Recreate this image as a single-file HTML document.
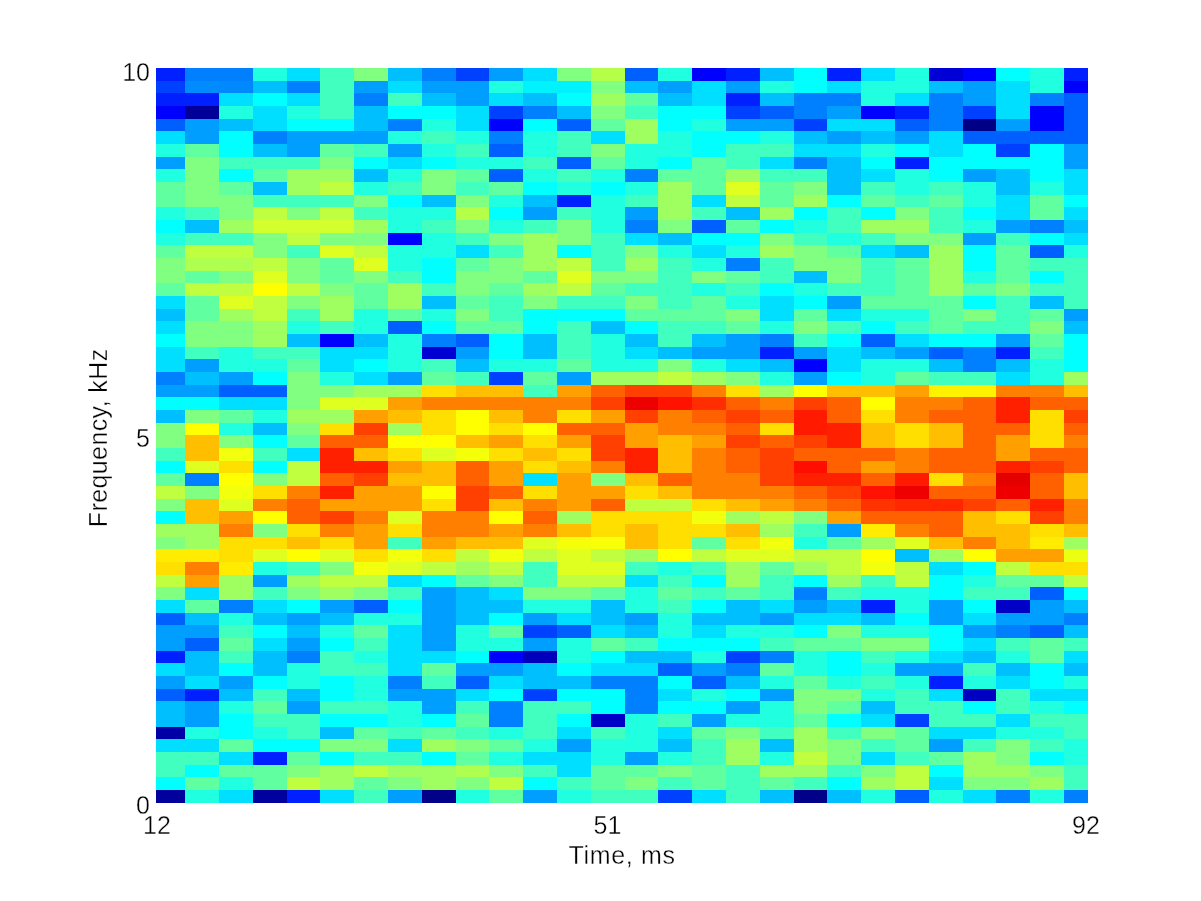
<!DOCTYPE html>
<html><head><meta charset="utf-8"><title>Spectrogram</title>
<style>html,body{margin:0;padding:0;background:#fff}svg{display:block}text{font-family:"Liberation Sans",Arial,Helvetica,sans-serif;font-size:25px;fill:#000;stroke:#fff;stroke-width:0.35px}</style></head><body>
<svg width="1201" height="901" viewBox="0 0 1201 901">
<rect width="1201" height="901" fill="#fff"/>
<g shape-rendering="crispEdges">
<rect x="156.0" y="68.00" width="29.6" height="13.17" fill="#0020ff"/>
<rect x="185.1" y="68.00" width="68.1" height="13.17" fill="#0080ff"/>
<rect x="252.7" y="68.00" width="34.3" height="13.17" fill="#20ffdf"/>
<rect x="286.5" y="68.00" width="34.3" height="13.17" fill="#00dfff"/>
<rect x="320.3" y="68.00" width="34.3" height="13.17" fill="#40ffbf"/>
<rect x="354.1" y="68.00" width="34.3" height="13.17" fill="#80ff80"/>
<rect x="387.9" y="68.00" width="34.3" height="13.17" fill="#00bfff"/>
<rect x="421.7" y="68.00" width="34.3" height="13.17" fill="#0080ff"/>
<rect x="455.5" y="68.00" width="34.3" height="13.17" fill="#0040ff"/>
<rect x="489.3" y="68.00" width="34.3" height="13.17" fill="#009fff"/>
<rect x="523.1" y="68.00" width="34.3" height="13.17" fill="#00dfff"/>
<rect x="556.9" y="68.00" width="34.3" height="13.17" fill="#80ff80"/>
<rect x="590.7" y="68.00" width="34.3" height="13.17" fill="#b6ff49"/>
<rect x="624.5" y="68.00" width="34.3" height="13.17" fill="#0060ff"/>
<rect x="658.3" y="68.00" width="34.3" height="13.17" fill="#20ffdf"/>
<rect x="692.1" y="68.00" width="34.3" height="13.17" fill="#0000ff"/>
<rect x="725.9" y="68.00" width="34.3" height="13.17" fill="#0020ff"/>
<rect x="759.7" y="68.00" width="34.3" height="13.17" fill="#00bfff"/>
<rect x="793.5" y="68.00" width="34.3" height="13.17" fill="#00ffff"/>
<rect x="827.3" y="68.00" width="34.3" height="13.17" fill="#0020ff"/>
<rect x="861.1" y="68.00" width="34.3" height="13.17" fill="#00dfff"/>
<rect x="894.9" y="68.00" width="34.3" height="13.17" fill="#20ffdf"/>
<rect x="928.7" y="68.00" width="34.3" height="13.17" fill="#0000d6"/>
<rect x="962.5" y="68.00" width="34.3" height="13.17" fill="#0000ff"/>
<rect x="996.3" y="68.00" width="34.3" height="13.17" fill="#00ffff"/>
<rect x="1030.1" y="68.00" width="34.3" height="13.17" fill="#20ffdf"/>
<rect x="1063.9" y="68.00" width="24.1" height="13.17" fill="#0020ff"/>
<rect x="156.0" y="80.67" width="29.6" height="13.17" fill="#0040ff"/>
<rect x="185.1" y="80.67" width="34.3" height="13.17" fill="#008cff"/>
<rect x="218.9" y="80.67" width="34.3" height="13.17" fill="#0089ff"/>
<rect x="252.7" y="80.67" width="34.3" height="13.17" fill="#00bfff"/>
<rect x="286.5" y="80.67" width="34.3" height="13.17" fill="#0080ff"/>
<rect x="320.3" y="80.67" width="34.3" height="13.17" fill="#40ffbf"/>
<rect x="354.1" y="80.67" width="34.3" height="13.17" fill="#009fff"/>
<rect x="387.9" y="80.67" width="34.3" height="13.17" fill="#00dfff"/>
<rect x="421.7" y="80.67" width="68.1" height="13.17" fill="#009fff"/>
<rect x="489.3" y="80.67" width="34.3" height="13.17" fill="#20ffdf"/>
<rect x="523.1" y="80.67" width="68.1" height="13.17" fill="#00f2ff"/>
<rect x="590.7" y="80.67" width="34.3" height="13.17" fill="#80ff80"/>
<rect x="624.5" y="80.67" width="34.3" height="13.17" fill="#00bfff"/>
<rect x="658.3" y="80.67" width="34.3" height="13.17" fill="#009fff"/>
<rect x="692.1" y="80.67" width="34.3" height="13.17" fill="#00dfff"/>
<rect x="725.9" y="80.67" width="34.3" height="13.17" fill="#009fff"/>
<rect x="759.7" y="80.67" width="34.3" height="13.17" fill="#20ffdf"/>
<rect x="793.5" y="80.67" width="34.3" height="13.17" fill="#00ffff"/>
<rect x="827.3" y="80.67" width="34.3" height="13.17" fill="#00dfff"/>
<rect x="861.1" y="80.67" width="68.1" height="13.17" fill="#20ffdf"/>
<rect x="928.7" y="80.67" width="34.3" height="13.17" fill="#00bfff"/>
<rect x="962.5" y="80.67" width="34.3" height="13.17" fill="#009fff"/>
<rect x="996.3" y="80.67" width="34.3" height="13.17" fill="#00dfff"/>
<rect x="1030.1" y="80.67" width="34.3" height="13.17" fill="#20ffdf"/>
<rect x="1063.9" y="80.67" width="24.1" height="13.17" fill="#0000ff"/>
<rect x="156.0" y="93.33" width="63.4" height="13.17" fill="#0020ff"/>
<rect x="218.9" y="93.33" width="34.3" height="13.17" fill="#00dfff"/>
<rect x="252.7" y="93.33" width="34.3" height="13.17" fill="#00ffff"/>
<rect x="286.5" y="93.33" width="34.3" height="13.17" fill="#00dfff"/>
<rect x="320.3" y="93.33" width="34.3" height="13.17" fill="#40ffbf"/>
<rect x="354.1" y="93.33" width="34.3" height="13.17" fill="#0080ff"/>
<rect x="387.9" y="93.33" width="34.3" height="13.17" fill="#40ffbf"/>
<rect x="421.7" y="93.33" width="34.3" height="13.17" fill="#00bfff"/>
<rect x="455.5" y="93.33" width="34.3" height="13.17" fill="#009fff"/>
<rect x="489.3" y="93.33" width="34.3" height="13.17" fill="#00dfff"/>
<rect x="523.1" y="93.33" width="34.3" height="13.17" fill="#00bfff"/>
<rect x="556.9" y="93.33" width="34.3" height="13.17" fill="#00ffff"/>
<rect x="590.7" y="93.33" width="34.3" height="13.17" fill="#9fff60"/>
<rect x="624.5" y="93.33" width="34.3" height="13.17" fill="#60ff9f"/>
<rect x="658.3" y="93.33" width="34.3" height="13.17" fill="#00bfff"/>
<rect x="692.1" y="93.33" width="34.3" height="13.17" fill="#00dfff"/>
<rect x="725.9" y="93.33" width="34.3" height="13.17" fill="#0020ff"/>
<rect x="759.7" y="93.33" width="34.3" height="13.17" fill="#00bfff"/>
<rect x="793.5" y="93.33" width="68.1" height="13.17" fill="#0080ff"/>
<rect x="861.1" y="93.33" width="34.3" height="13.17" fill="#20ffdf"/>
<rect x="894.9" y="93.33" width="34.3" height="13.17" fill="#00dfff"/>
<rect x="928.7" y="93.33" width="34.3" height="13.17" fill="#0080ff"/>
<rect x="962.5" y="93.33" width="34.3" height="13.17" fill="#009fff"/>
<rect x="996.3" y="93.33" width="34.3" height="13.17" fill="#00dfff"/>
<rect x="1030.1" y="93.33" width="34.3" height="13.17" fill="#0080ff"/>
<rect x="1063.9" y="93.33" width="24.1" height="13.17" fill="#0060ff"/>
<rect x="156.0" y="106.00" width="29.6" height="13.17" fill="#0000ff"/>
<rect x="185.1" y="106.00" width="34.3" height="13.17" fill="#000099"/>
<rect x="218.9" y="106.00" width="34.3" height="13.17" fill="#20ffdf"/>
<rect x="252.7" y="106.00" width="34.3" height="13.17" fill="#00dfff"/>
<rect x="286.5" y="106.00" width="34.3" height="13.17" fill="#20ffdf"/>
<rect x="320.3" y="106.00" width="34.3" height="13.17" fill="#40ffbf"/>
<rect x="354.1" y="106.00" width="34.3" height="13.17" fill="#00bfff"/>
<rect x="387.9" y="106.00" width="68.1" height="13.17" fill="#00ffff"/>
<rect x="455.5" y="106.00" width="34.3" height="13.17" fill="#00dfff"/>
<rect x="489.3" y="106.00" width="34.3" height="13.17" fill="#0040ff"/>
<rect x="523.1" y="106.00" width="34.3" height="13.17" fill="#0080ff"/>
<rect x="556.9" y="106.00" width="34.3" height="13.17" fill="#00bfff"/>
<rect x="590.7" y="106.00" width="34.3" height="13.17" fill="#80ff80"/>
<rect x="624.5" y="106.00" width="34.3" height="13.17" fill="#40ffbf"/>
<rect x="658.3" y="106.00" width="68.1" height="13.17" fill="#00ffff"/>
<rect x="725.9" y="106.00" width="34.3" height="13.17" fill="#0040ff"/>
<rect x="759.7" y="106.00" width="34.3" height="13.17" fill="#0060ff"/>
<rect x="793.5" y="106.00" width="34.3" height="13.17" fill="#0080ff"/>
<rect x="827.3" y="106.00" width="34.3" height="13.17" fill="#009fff"/>
<rect x="861.1" y="106.00" width="34.3" height="13.17" fill="#0000ff"/>
<rect x="894.9" y="106.00" width="34.3" height="13.17" fill="#0020ff"/>
<rect x="928.7" y="106.00" width="34.3" height="13.17" fill="#0080ff"/>
<rect x="962.5" y="106.00" width="34.3" height="13.17" fill="#0040ff"/>
<rect x="996.3" y="106.00" width="34.3" height="13.17" fill="#00dfff"/>
<rect x="1030.1" y="106.00" width="34.3" height="13.17" fill="#0000ff"/>
<rect x="1063.9" y="106.00" width="24.1" height="13.17" fill="#0060ff"/>
<rect x="156.0" y="118.67" width="29.6" height="13.17" fill="#0060ff"/>
<rect x="185.1" y="118.67" width="34.3" height="13.17" fill="#009fff"/>
<rect x="218.9" y="118.67" width="34.3" height="13.17" fill="#00bfff"/>
<rect x="252.7" y="118.67" width="34.3" height="13.17" fill="#00dfff"/>
<rect x="286.5" y="118.67" width="68.1" height="13.17" fill="#00ffff"/>
<rect x="354.1" y="118.67" width="34.3" height="13.17" fill="#00bfff"/>
<rect x="387.9" y="118.67" width="34.3" height="13.17" fill="#0080ff"/>
<rect x="421.7" y="118.67" width="34.3" height="13.17" fill="#20ffdf"/>
<rect x="455.5" y="118.67" width="34.3" height="13.17" fill="#00dfff"/>
<rect x="489.3" y="118.67" width="34.3" height="13.17" fill="#0000ff"/>
<rect x="523.1" y="118.67" width="34.3" height="13.17" fill="#00ffff"/>
<rect x="556.9" y="118.67" width="34.3" height="13.17" fill="#0060ff"/>
<rect x="590.7" y="118.67" width="34.3" height="13.17" fill="#60ff9f"/>
<rect x="624.5" y="118.67" width="34.3" height="13.17" fill="#9fff60"/>
<rect x="658.3" y="118.67" width="34.3" height="13.17" fill="#00ffff"/>
<rect x="692.1" y="118.67" width="34.3" height="13.17" fill="#20ffdf"/>
<rect x="725.9" y="118.67" width="68.1" height="13.17" fill="#009fff"/>
<rect x="793.5" y="118.67" width="34.3" height="13.17" fill="#0040ff"/>
<rect x="827.3" y="118.67" width="68.1" height="13.17" fill="#00dfff"/>
<rect x="894.9" y="118.67" width="34.3" height="13.17" fill="#0060ff"/>
<rect x="928.7" y="118.67" width="34.3" height="13.17" fill="#0080ff"/>
<rect x="962.5" y="118.67" width="34.3" height="13.17" fill="#000086"/>
<rect x="996.3" y="118.67" width="34.3" height="13.17" fill="#009fff"/>
<rect x="1030.1" y="118.67" width="34.3" height="13.17" fill="#0000ff"/>
<rect x="1063.9" y="118.67" width="24.1" height="13.17" fill="#0060ff"/>
<rect x="156.0" y="131.34" width="29.6" height="13.17" fill="#00dfff"/>
<rect x="185.1" y="131.34" width="34.3" height="13.17" fill="#009fff"/>
<rect x="218.9" y="131.34" width="34.3" height="13.17" fill="#00ffff"/>
<rect x="252.7" y="131.34" width="34.3" height="13.17" fill="#0080ff"/>
<rect x="286.5" y="131.34" width="101.9" height="13.17" fill="#009fff"/>
<rect x="387.9" y="131.34" width="34.3" height="13.17" fill="#20ffdf"/>
<rect x="421.7" y="131.34" width="34.3" height="13.17" fill="#40ffbf"/>
<rect x="455.5" y="131.34" width="34.3" height="13.17" fill="#20ffdf"/>
<rect x="489.3" y="131.34" width="34.3" height="13.17" fill="#0080ff"/>
<rect x="523.1" y="131.34" width="34.3" height="13.17" fill="#20ffdf"/>
<rect x="556.9" y="131.34" width="34.3" height="13.17" fill="#40ffbf"/>
<rect x="590.7" y="131.34" width="34.3" height="13.17" fill="#00dfff"/>
<rect x="624.5" y="131.34" width="34.3" height="13.17" fill="#9fff60"/>
<rect x="658.3" y="131.34" width="34.3" height="13.17" fill="#20ffdf"/>
<rect x="692.1" y="131.34" width="68.1" height="13.17" fill="#00ffff"/>
<rect x="759.7" y="131.34" width="34.3" height="13.17" fill="#20ffdf"/>
<rect x="793.5" y="131.34" width="34.3" height="13.17" fill="#00bfff"/>
<rect x="827.3" y="131.34" width="34.3" height="13.17" fill="#009fff"/>
<rect x="861.1" y="131.34" width="34.3" height="13.17" fill="#00bfff"/>
<rect x="894.9" y="131.34" width="34.3" height="13.17" fill="#009fff"/>
<rect x="928.7" y="131.34" width="34.3" height="13.17" fill="#00dfff"/>
<rect x="962.5" y="131.34" width="125.5" height="13.17" fill="#0060ff"/>
<rect x="156.0" y="144.00" width="29.6" height="13.17" fill="#20ffdf"/>
<rect x="185.1" y="144.00" width="34.3" height="13.17" fill="#60ff9f"/>
<rect x="218.9" y="144.00" width="34.3" height="13.17" fill="#00ffff"/>
<rect x="252.7" y="144.00" width="34.3" height="13.17" fill="#00bfff"/>
<rect x="286.5" y="144.00" width="34.3" height="13.17" fill="#009fff"/>
<rect x="320.3" y="144.00" width="34.3" height="13.17" fill="#60ff9f"/>
<rect x="354.1" y="144.00" width="34.3" height="13.17" fill="#40ffbf"/>
<rect x="387.9" y="144.00" width="34.3" height="13.17" fill="#009fff"/>
<rect x="421.7" y="144.00" width="34.3" height="13.17" fill="#20ffdf"/>
<rect x="455.5" y="144.00" width="34.3" height="13.17" fill="#40ffbf"/>
<rect x="489.3" y="144.00" width="34.3" height="13.17" fill="#0060ff"/>
<rect x="523.1" y="144.00" width="34.3" height="13.17" fill="#20ffdf"/>
<rect x="556.9" y="144.00" width="34.3" height="13.17" fill="#40ffbf"/>
<rect x="590.7" y="144.00" width="34.3" height="13.17" fill="#80ff80"/>
<rect x="624.5" y="144.00" width="68.1" height="13.17" fill="#20ffdf"/>
<rect x="692.1" y="144.00" width="34.3" height="13.17" fill="#00ffff"/>
<rect x="725.9" y="144.00" width="68.1" height="13.17" fill="#40ffbf"/>
<rect x="793.5" y="144.00" width="68.1" height="13.17" fill="#00dfff"/>
<rect x="861.1" y="144.00" width="34.3" height="13.17" fill="#20ffdf"/>
<rect x="894.9" y="144.00" width="34.3" height="13.17" fill="#00ffff"/>
<rect x="928.7" y="144.00" width="34.3" height="13.17" fill="#00dfff"/>
<rect x="962.5" y="144.00" width="34.3" height="13.17" fill="#00ffff"/>
<rect x="996.3" y="144.00" width="34.3" height="13.17" fill="#0040ff"/>
<rect x="1030.1" y="144.00" width="34.3" height="13.17" fill="#00ffff"/>
<rect x="1063.9" y="144.00" width="24.1" height="13.17" fill="#009fff"/>
<rect x="156.0" y="156.67" width="29.6" height="13.17" fill="#009fff"/>
<rect x="185.1" y="156.67" width="34.3" height="13.17" fill="#80ff80"/>
<rect x="218.9" y="156.67" width="101.9" height="13.17" fill="#40ffbf"/>
<rect x="320.3" y="156.67" width="34.3" height="13.17" fill="#80ff80"/>
<rect x="354.1" y="156.67" width="34.3" height="13.17" fill="#00ffff"/>
<rect x="387.9" y="156.67" width="34.3" height="13.17" fill="#00dfff"/>
<rect x="421.7" y="156.67" width="34.3" height="13.17" fill="#00ffff"/>
<rect x="455.5" y="156.67" width="68.1" height="13.17" fill="#20ffdf"/>
<rect x="523.1" y="156.67" width="34.3" height="13.17" fill="#40ffbf"/>
<rect x="556.9" y="156.67" width="34.3" height="13.17" fill="#0060ff"/>
<rect x="590.7" y="156.67" width="34.3" height="13.17" fill="#60ff9f"/>
<rect x="624.5" y="156.67" width="34.3" height="13.17" fill="#20ffdf"/>
<rect x="658.3" y="156.67" width="34.3" height="13.17" fill="#00ffff"/>
<rect x="692.1" y="156.67" width="34.3" height="13.17" fill="#60ff9f"/>
<rect x="725.9" y="156.67" width="34.3" height="13.17" fill="#40ffbf"/>
<rect x="759.7" y="156.67" width="34.3" height="13.17" fill="#00dfff"/>
<rect x="793.5" y="156.67" width="34.3" height="13.17" fill="#0080ff"/>
<rect x="827.3" y="156.67" width="34.3" height="13.17" fill="#00bfff"/>
<rect x="861.1" y="156.67" width="34.3" height="13.17" fill="#00ffff"/>
<rect x="894.9" y="156.67" width="34.3" height="13.17" fill="#0020ff"/>
<rect x="928.7" y="156.67" width="135.7" height="13.17" fill="#00ffff"/>
<rect x="1063.9" y="156.67" width="24.1" height="13.17" fill="#009fff"/>
<rect x="156.0" y="169.34" width="29.6" height="13.17" fill="#20ffdf"/>
<rect x="185.1" y="169.34" width="34.3" height="13.17" fill="#80ff80"/>
<rect x="218.9" y="169.34" width="34.3" height="13.17" fill="#00ffff"/>
<rect x="252.7" y="169.34" width="34.3" height="13.17" fill="#60ff9f"/>
<rect x="286.5" y="169.34" width="68.1" height="13.17" fill="#9fff60"/>
<rect x="354.1" y="169.34" width="34.3" height="13.17" fill="#00bfff"/>
<rect x="387.9" y="169.34" width="34.3" height="13.17" fill="#20ffdf"/>
<rect x="421.7" y="169.34" width="34.3" height="13.17" fill="#80ff80"/>
<rect x="455.5" y="169.34" width="34.3" height="13.17" fill="#60ff9f"/>
<rect x="489.3" y="169.34" width="34.3" height="13.17" fill="#0060ff"/>
<rect x="523.1" y="169.34" width="34.3" height="13.17" fill="#20ffdf"/>
<rect x="556.9" y="169.34" width="34.3" height="13.17" fill="#40ffbf"/>
<rect x="590.7" y="169.34" width="34.3" height="13.17" fill="#20ffdf"/>
<rect x="624.5" y="169.34" width="34.3" height="13.17" fill="#0080ff"/>
<rect x="658.3" y="169.34" width="68.1" height="13.17" fill="#60ff9f"/>
<rect x="725.9" y="169.34" width="34.3" height="13.17" fill="#9fff60"/>
<rect x="759.7" y="169.34" width="68.1" height="13.17" fill="#40ffbf"/>
<rect x="827.3" y="169.34" width="34.3" height="13.17" fill="#00bfff"/>
<rect x="861.1" y="169.34" width="34.3" height="13.17" fill="#00dfff"/>
<rect x="894.9" y="169.34" width="34.3" height="13.17" fill="#20ffdf"/>
<rect x="928.7" y="169.34" width="34.3" height="13.17" fill="#00ffff"/>
<rect x="962.5" y="169.34" width="34.3" height="13.17" fill="#009fff"/>
<rect x="996.3" y="169.34" width="34.3" height="13.17" fill="#00bfff"/>
<rect x="1030.1" y="169.34" width="34.3" height="13.17" fill="#00ffff"/>
<rect x="1063.9" y="169.34" width="24.1" height="13.17" fill="#00dfff"/>
<rect x="156.0" y="182.01" width="29.6" height="13.17" fill="#60ff9f"/>
<rect x="185.1" y="182.01" width="34.3" height="13.17" fill="#80ff80"/>
<rect x="218.9" y="182.01" width="34.3" height="13.17" fill="#60ff9f"/>
<rect x="252.7" y="182.01" width="34.3" height="13.17" fill="#00bfff"/>
<rect x="286.5" y="182.01" width="34.3" height="13.17" fill="#9fff60"/>
<rect x="320.3" y="182.01" width="34.3" height="13.17" fill="#bfff40"/>
<rect x="354.1" y="182.01" width="34.3" height="13.17" fill="#20ffdf"/>
<rect x="387.9" y="182.01" width="34.3" height="13.17" fill="#40ffbf"/>
<rect x="421.7" y="182.01" width="34.3" height="13.17" fill="#80ff80"/>
<rect x="455.5" y="182.01" width="34.3" height="13.17" fill="#40ffbf"/>
<rect x="489.3" y="182.01" width="34.3" height="13.17" fill="#60ff9f"/>
<rect x="523.1" y="182.01" width="34.3" height="13.17" fill="#00ffff"/>
<rect x="556.9" y="182.01" width="34.3" height="13.17" fill="#20ffdf"/>
<rect x="590.7" y="182.01" width="34.3" height="13.17" fill="#00ffff"/>
<rect x="624.5" y="182.01" width="34.3" height="13.17" fill="#20ffdf"/>
<rect x="658.3" y="182.01" width="34.3" height="13.17" fill="#9fff60"/>
<rect x="692.1" y="182.01" width="34.3" height="13.17" fill="#60ff9f"/>
<rect x="725.9" y="182.01" width="34.3" height="13.17" fill="#dfff20"/>
<rect x="759.7" y="182.01" width="34.3" height="13.17" fill="#60ff9f"/>
<rect x="793.5" y="182.01" width="34.3" height="13.17" fill="#80ff80"/>
<rect x="827.3" y="182.01" width="34.3" height="13.17" fill="#00bfff"/>
<rect x="861.1" y="182.01" width="34.3" height="13.17" fill="#40ffbf"/>
<rect x="894.9" y="182.01" width="34.3" height="13.17" fill="#20ffdf"/>
<rect x="928.7" y="182.01" width="34.3" height="13.17" fill="#40ffbf"/>
<rect x="962.5" y="182.01" width="34.3" height="13.17" fill="#20ffdf"/>
<rect x="996.3" y="182.01" width="34.3" height="13.17" fill="#00bfff"/>
<rect x="1030.1" y="182.01" width="34.3" height="13.17" fill="#20ffdf"/>
<rect x="1063.9" y="182.01" width="24.1" height="13.17" fill="#00dfff"/>
<rect x="156.0" y="194.67" width="29.6" height="13.17" fill="#60ff9f"/>
<rect x="185.1" y="194.67" width="68.1" height="13.17" fill="#80ff80"/>
<rect x="252.7" y="194.67" width="101.9" height="13.17" fill="#40ffbf"/>
<rect x="354.1" y="194.67" width="34.3" height="13.17" fill="#80ff80"/>
<rect x="387.9" y="194.67" width="34.3" height="13.17" fill="#00ffff"/>
<rect x="421.7" y="194.67" width="34.3" height="13.17" fill="#00bfff"/>
<rect x="455.5" y="194.67" width="34.3" height="13.17" fill="#80ff80"/>
<rect x="489.3" y="194.67" width="34.3" height="13.17" fill="#20ffdf"/>
<rect x="523.1" y="194.67" width="34.3" height="13.17" fill="#00bfff"/>
<rect x="556.9" y="194.67" width="34.3" height="13.17" fill="#0020ff"/>
<rect x="590.7" y="194.67" width="34.3" height="13.17" fill="#20ffdf"/>
<rect x="624.5" y="194.67" width="34.3" height="13.17" fill="#40ffbf"/>
<rect x="658.3" y="194.67" width="34.3" height="13.17" fill="#9fff60"/>
<rect x="692.1" y="194.67" width="34.3" height="13.17" fill="#00dfff"/>
<rect x="725.9" y="194.67" width="34.3" height="13.17" fill="#bfff40"/>
<rect x="759.7" y="194.67" width="34.3" height="13.17" fill="#60ff9f"/>
<rect x="793.5" y="194.67" width="34.3" height="13.17" fill="#9fff60"/>
<rect x="827.3" y="194.67" width="34.3" height="13.17" fill="#00ffff"/>
<rect x="861.1" y="194.67" width="34.3" height="13.17" fill="#60ff9f"/>
<rect x="894.9" y="194.67" width="34.3" height="13.17" fill="#40ffbf"/>
<rect x="928.7" y="194.67" width="34.3" height="13.17" fill="#60ff9f"/>
<rect x="962.5" y="194.67" width="34.3" height="13.17" fill="#20ffdf"/>
<rect x="996.3" y="194.67" width="34.3" height="13.17" fill="#00dfff"/>
<rect x="1030.1" y="194.67" width="34.3" height="13.17" fill="#60ff9f"/>
<rect x="1063.9" y="194.67" width="24.1" height="13.17" fill="#00ffff"/>
<rect x="156.0" y="207.34" width="29.6" height="13.17" fill="#20ffdf"/>
<rect x="185.1" y="207.34" width="34.3" height="13.17" fill="#40ffbf"/>
<rect x="218.9" y="207.34" width="34.3" height="13.17" fill="#80ff80"/>
<rect x="252.7" y="207.34" width="34.3" height="13.17" fill="#bfff40"/>
<rect x="286.5" y="207.34" width="34.3" height="13.17" fill="#80ff80"/>
<rect x="320.3" y="207.34" width="34.3" height="13.17" fill="#bfff40"/>
<rect x="354.1" y="207.34" width="34.3" height="13.17" fill="#40ffbf"/>
<rect x="387.9" y="207.34" width="68.1" height="13.17" fill="#20ffdf"/>
<rect x="455.5" y="207.34" width="34.3" height="13.17" fill="#b6ff49"/>
<rect x="489.3" y="207.34" width="34.3" height="13.17" fill="#00ffff"/>
<rect x="523.1" y="207.34" width="34.3" height="13.17" fill="#009fff"/>
<rect x="556.9" y="207.34" width="34.3" height="13.17" fill="#40ffbf"/>
<rect x="590.7" y="207.34" width="34.3" height="13.17" fill="#20ffdf"/>
<rect x="624.5" y="207.34" width="34.3" height="13.17" fill="#009fff"/>
<rect x="658.3" y="207.34" width="34.3" height="13.17" fill="#9fff60"/>
<rect x="692.1" y="207.34" width="34.3" height="13.17" fill="#40ffbf"/>
<rect x="725.9" y="207.34" width="34.3" height="13.17" fill="#00bfff"/>
<rect x="759.7" y="207.34" width="34.3" height="13.17" fill="#9fff60"/>
<rect x="793.5" y="207.34" width="34.3" height="13.17" fill="#00ffff"/>
<rect x="827.3" y="207.34" width="34.3" height="13.17" fill="#40ffbf"/>
<rect x="861.1" y="207.34" width="34.3" height="13.17" fill="#00ffff"/>
<rect x="894.9" y="207.34" width="34.3" height="13.17" fill="#80ff80"/>
<rect x="928.7" y="207.34" width="34.3" height="13.17" fill="#40ffbf"/>
<rect x="962.5" y="207.34" width="34.3" height="13.17" fill="#00ffff"/>
<rect x="996.3" y="207.34" width="34.3" height="13.17" fill="#00dfff"/>
<rect x="1030.1" y="207.34" width="34.3" height="13.17" fill="#60ff9f"/>
<rect x="1063.9" y="207.34" width="24.1" height="13.17" fill="#00dfff"/>
<rect x="156.0" y="220.01" width="29.6" height="13.17" fill="#00ffff"/>
<rect x="185.1" y="220.01" width="34.3" height="13.17" fill="#00bfff"/>
<rect x="218.9" y="220.01" width="34.3" height="13.17" fill="#9fff60"/>
<rect x="252.7" y="220.01" width="101.9" height="13.17" fill="#d2ff2d"/>
<rect x="354.1" y="220.01" width="34.3" height="13.17" fill="#9fff60"/>
<rect x="387.9" y="220.01" width="34.3" height="13.17" fill="#20ffdf"/>
<rect x="421.7" y="220.01" width="34.3" height="13.17" fill="#40ffbf"/>
<rect x="455.5" y="220.01" width="34.3" height="13.17" fill="#80ff80"/>
<rect x="489.3" y="220.01" width="34.3" height="13.17" fill="#20ffdf"/>
<rect x="523.1" y="220.01" width="34.3" height="13.17" fill="#40ffbf"/>
<rect x="556.9" y="220.01" width="34.3" height="13.17" fill="#80ff80"/>
<rect x="590.7" y="220.01" width="34.3" height="13.17" fill="#20ffdf"/>
<rect x="624.5" y="220.01" width="34.3" height="13.17" fill="#0080ff"/>
<rect x="658.3" y="220.01" width="34.3" height="13.17" fill="#80ff80"/>
<rect x="692.1" y="220.01" width="34.3" height="13.17" fill="#0060ff"/>
<rect x="725.9" y="220.01" width="34.3" height="13.17" fill="#60ff9f"/>
<rect x="759.7" y="220.01" width="34.3" height="13.17" fill="#00ffff"/>
<rect x="793.5" y="220.01" width="34.3" height="13.17" fill="#20ffdf"/>
<rect x="827.3" y="220.01" width="34.3" height="13.17" fill="#40ffbf"/>
<rect x="861.1" y="220.01" width="68.1" height="13.17" fill="#9fff60"/>
<rect x="928.7" y="220.01" width="34.3" height="13.17" fill="#40ffbf"/>
<rect x="962.5" y="220.01" width="34.3" height="13.17" fill="#20ffdf"/>
<rect x="996.3" y="220.01" width="34.3" height="13.17" fill="#009fff"/>
<rect x="1030.1" y="220.01" width="34.3" height="13.17" fill="#0080ff"/>
<rect x="1063.9" y="220.01" width="24.1" height="13.17" fill="#00bfff"/>
<rect x="156.0" y="232.67" width="29.6" height="13.17" fill="#20ffdf"/>
<rect x="185.1" y="232.67" width="68.1" height="13.17" fill="#40ffbf"/>
<rect x="252.7" y="232.67" width="34.3" height="13.17" fill="#80ff80"/>
<rect x="286.5" y="232.67" width="34.3" height="13.17" fill="#bfff40"/>
<rect x="320.3" y="232.67" width="68.1" height="13.17" fill="#80ff80"/>
<rect x="387.9" y="232.67" width="34.3" height="13.17" fill="#0000ff"/>
<rect x="421.7" y="232.67" width="34.3" height="13.17" fill="#20ffdf"/>
<rect x="455.5" y="232.67" width="34.3" height="13.17" fill="#40ffbf"/>
<rect x="489.3" y="232.67" width="34.3" height="13.17" fill="#80ff80"/>
<rect x="523.1" y="232.67" width="34.3" height="13.17" fill="#9fff60"/>
<rect x="556.9" y="232.67" width="34.3" height="13.17" fill="#80ff80"/>
<rect x="590.7" y="232.67" width="34.3" height="13.17" fill="#40ffbf"/>
<rect x="624.5" y="232.67" width="34.3" height="13.17" fill="#00dfff"/>
<rect x="658.3" y="232.67" width="34.3" height="13.17" fill="#00bfff"/>
<rect x="692.1" y="232.67" width="68.1" height="13.17" fill="#00ffff"/>
<rect x="759.7" y="232.67" width="34.3" height="13.17" fill="#80ff80"/>
<rect x="793.5" y="232.67" width="34.3" height="13.17" fill="#40ffbf"/>
<rect x="827.3" y="232.67" width="34.3" height="13.17" fill="#20ffdf"/>
<rect x="861.1" y="232.67" width="34.3" height="13.17" fill="#40ffbf"/>
<rect x="894.9" y="232.67" width="68.1" height="13.17" fill="#80ff80"/>
<rect x="962.5" y="232.67" width="34.3" height="13.17" fill="#009fff"/>
<rect x="996.3" y="232.67" width="34.3" height="13.17" fill="#40ffbf"/>
<rect x="1030.1" y="232.67" width="34.3" height="13.17" fill="#00ffff"/>
<rect x="1063.9" y="232.67" width="24.1" height="13.17" fill="#00dfff"/>
<rect x="156.0" y="245.34" width="29.6" height="13.17" fill="#60ff9f"/>
<rect x="185.1" y="245.34" width="68.1" height="13.17" fill="#bfff40"/>
<rect x="252.7" y="245.34" width="34.3" height="13.17" fill="#80ff80"/>
<rect x="286.5" y="245.34" width="34.3" height="13.17" fill="#40ffbf"/>
<rect x="320.3" y="245.34" width="34.3" height="13.17" fill="#dfff20"/>
<rect x="354.1" y="245.34" width="34.3" height="13.17" fill="#bfff40"/>
<rect x="387.9" y="245.34" width="68.1" height="13.17" fill="#20ffdf"/>
<rect x="455.5" y="245.34" width="34.3" height="13.17" fill="#00dfff"/>
<rect x="489.3" y="245.34" width="34.3" height="13.17" fill="#40ffbf"/>
<rect x="523.1" y="245.34" width="34.3" height="13.17" fill="#9fff60"/>
<rect x="556.9" y="245.34" width="34.3" height="13.17" fill="#00ffff"/>
<rect x="590.7" y="245.34" width="34.3" height="13.17" fill="#40ffbf"/>
<rect x="624.5" y="245.34" width="34.3" height="13.17" fill="#80ff80"/>
<rect x="658.3" y="245.34" width="34.3" height="13.17" fill="#20ffdf"/>
<rect x="692.1" y="245.34" width="34.3" height="13.17" fill="#00dfff"/>
<rect x="725.9" y="245.34" width="34.3" height="13.17" fill="#20ffdf"/>
<rect x="759.7" y="245.34" width="34.3" height="13.17" fill="#9fff60"/>
<rect x="793.5" y="245.34" width="34.3" height="13.17" fill="#80ff80"/>
<rect x="827.3" y="245.34" width="34.3" height="13.17" fill="#60ff9f"/>
<rect x="861.1" y="245.34" width="34.3" height="13.17" fill="#00dfff"/>
<rect x="894.9" y="245.34" width="34.3" height="13.17" fill="#00bfff"/>
<rect x="928.7" y="245.34" width="34.3" height="13.17" fill="#9fff60"/>
<rect x="962.5" y="245.34" width="34.3" height="13.17" fill="#00ffff"/>
<rect x="996.3" y="245.34" width="34.3" height="13.17" fill="#60ff9f"/>
<rect x="1030.1" y="245.34" width="34.3" height="13.17" fill="#0060ff"/>
<rect x="1063.9" y="245.34" width="24.1" height="13.17" fill="#20ffdf"/>
<rect x="156.0" y="258.01" width="29.6" height="13.17" fill="#80ff80"/>
<rect x="185.1" y="258.01" width="68.1" height="13.17" fill="#afff50"/>
<rect x="252.7" y="258.01" width="34.3" height="13.17" fill="#bfff40"/>
<rect x="286.5" y="258.01" width="34.3" height="13.17" fill="#80ff80"/>
<rect x="320.3" y="258.01" width="34.3" height="13.17" fill="#60ff9f"/>
<rect x="354.1" y="258.01" width="34.3" height="13.17" fill="#dfff20"/>
<rect x="387.9" y="258.01" width="34.3" height="13.17" fill="#20ffdf"/>
<rect x="421.7" y="258.01" width="34.3" height="13.17" fill="#00ffff"/>
<rect x="455.5" y="258.01" width="34.3" height="13.17" fill="#60ff9f"/>
<rect x="489.3" y="258.01" width="34.3" height="13.17" fill="#80ff80"/>
<rect x="523.1" y="258.01" width="34.3" height="13.17" fill="#9fff60"/>
<rect x="556.9" y="258.01" width="34.3" height="13.17" fill="#bfff40"/>
<rect x="590.7" y="258.01" width="34.3" height="13.17" fill="#40ffbf"/>
<rect x="624.5" y="258.01" width="34.3" height="13.17" fill="#9fff60"/>
<rect x="658.3" y="258.01" width="34.3" height="13.17" fill="#40ffbf"/>
<rect x="692.1" y="258.01" width="34.3" height="13.17" fill="#20ffdf"/>
<rect x="725.9" y="258.01" width="34.3" height="13.17" fill="#0080ff"/>
<rect x="759.7" y="258.01" width="34.3" height="13.17" fill="#40ffbf"/>
<rect x="793.5" y="258.01" width="68.1" height="13.17" fill="#80ff80"/>
<rect x="861.1" y="258.01" width="34.3" height="13.17" fill="#40ffbf"/>
<rect x="894.9" y="258.01" width="34.3" height="13.17" fill="#60ff9f"/>
<rect x="928.7" y="258.01" width="34.3" height="13.17" fill="#9fff60"/>
<rect x="962.5" y="258.01" width="34.3" height="13.17" fill="#00ffff"/>
<rect x="996.3" y="258.01" width="34.3" height="13.17" fill="#60ff9f"/>
<rect x="1030.1" y="258.01" width="57.9" height="13.17" fill="#40ffbf"/>
<rect x="156.0" y="270.68" width="29.6" height="13.17" fill="#80ff80"/>
<rect x="185.1" y="270.68" width="34.3" height="13.17" fill="#60ff9f"/>
<rect x="218.9" y="270.68" width="34.3" height="13.17" fill="#80ff80"/>
<rect x="252.7" y="270.68" width="34.3" height="13.17" fill="#dfff20"/>
<rect x="286.5" y="270.68" width="34.3" height="13.17" fill="#80ff80"/>
<rect x="320.3" y="270.68" width="34.3" height="13.17" fill="#60ff9f"/>
<rect x="354.1" y="270.68" width="34.3" height="13.17" fill="#80ff80"/>
<rect x="387.9" y="270.68" width="34.3" height="13.17" fill="#40ffbf"/>
<rect x="421.7" y="270.68" width="34.3" height="13.17" fill="#00ffff"/>
<rect x="455.5" y="270.68" width="68.1" height="13.17" fill="#80ff80"/>
<rect x="523.1" y="270.68" width="34.3" height="13.17" fill="#60ff9f"/>
<rect x="556.9" y="270.68" width="34.3" height="13.17" fill="#dfff20"/>
<rect x="590.7" y="270.68" width="68.1" height="13.17" fill="#80ff80"/>
<rect x="658.3" y="270.68" width="34.3" height="13.17" fill="#40ffbf"/>
<rect x="692.1" y="270.68" width="34.3" height="13.17" fill="#80ff80"/>
<rect x="725.9" y="270.68" width="34.3" height="13.17" fill="#60ff9f"/>
<rect x="759.7" y="270.68" width="34.3" height="13.17" fill="#40ffbf"/>
<rect x="793.5" y="270.68" width="34.3" height="13.17" fill="#00bfff"/>
<rect x="827.3" y="270.68" width="34.3" height="13.17" fill="#80ff80"/>
<rect x="861.1" y="270.68" width="34.3" height="13.17" fill="#40ffbf"/>
<rect x="894.9" y="270.68" width="34.3" height="13.17" fill="#60ff9f"/>
<rect x="928.7" y="270.68" width="34.3" height="13.17" fill="#9fff60"/>
<rect x="962.5" y="270.68" width="34.3" height="13.17" fill="#20ffdf"/>
<rect x="996.3" y="270.68" width="34.3" height="13.17" fill="#60ff9f"/>
<rect x="1030.1" y="270.68" width="34.3" height="13.17" fill="#00ffff"/>
<rect x="1063.9" y="270.68" width="24.1" height="13.17" fill="#40ffbf"/>
<rect x="156.0" y="283.34" width="29.6" height="13.17" fill="#60ff9f"/>
<rect x="185.1" y="283.34" width="68.1" height="13.17" fill="#bfff40"/>
<rect x="252.7" y="283.34" width="34.3" height="13.17" fill="#ffff00"/>
<rect x="286.5" y="283.34" width="34.3" height="13.17" fill="#bfff40"/>
<rect x="320.3" y="283.34" width="34.3" height="13.17" fill="#80ff80"/>
<rect x="354.1" y="283.34" width="34.3" height="13.17" fill="#60ff9f"/>
<rect x="387.9" y="283.34" width="34.3" height="13.17" fill="#9fff60"/>
<rect x="421.7" y="283.34" width="34.3" height="13.17" fill="#40ffbf"/>
<rect x="455.5" y="283.34" width="34.3" height="13.17" fill="#80ff80"/>
<rect x="489.3" y="283.34" width="34.3" height="13.17" fill="#60ff9f"/>
<rect x="523.1" y="283.34" width="34.3" height="13.17" fill="#9fff60"/>
<rect x="556.9" y="283.34" width="34.3" height="13.17" fill="#bfff40"/>
<rect x="590.7" y="283.34" width="34.3" height="13.17" fill="#60ff9f"/>
<rect x="624.5" y="283.34" width="68.1" height="13.17" fill="#40ffbf"/>
<rect x="692.1" y="283.34" width="34.3" height="13.17" fill="#20ffdf"/>
<rect x="725.9" y="283.34" width="34.3" height="13.17" fill="#40ffbf"/>
<rect x="759.7" y="283.34" width="34.3" height="13.17" fill="#00ffff"/>
<rect x="793.5" y="283.34" width="34.3" height="13.17" fill="#20ffdf"/>
<rect x="827.3" y="283.34" width="68.1" height="13.17" fill="#40ffbf"/>
<rect x="894.9" y="283.34" width="34.3" height="13.17" fill="#60ff9f"/>
<rect x="928.7" y="283.34" width="34.3" height="13.17" fill="#9fff60"/>
<rect x="962.5" y="283.34" width="34.3" height="13.17" fill="#60ff9f"/>
<rect x="996.3" y="283.34" width="34.3" height="13.17" fill="#80ff80"/>
<rect x="1030.1" y="283.34" width="57.9" height="13.17" fill="#40ffbf"/>
<rect x="156.0" y="296.01" width="29.6" height="13.17" fill="#00dfff"/>
<rect x="185.1" y="296.01" width="34.3" height="13.17" fill="#60ff9f"/>
<rect x="218.9" y="296.01" width="34.3" height="13.17" fill="#dfff20"/>
<rect x="252.7" y="296.01" width="34.3" height="13.17" fill="#bfff40"/>
<rect x="286.5" y="296.01" width="34.3" height="13.17" fill="#80ff80"/>
<rect x="320.3" y="296.01" width="34.3" height="13.17" fill="#9fff60"/>
<rect x="354.1" y="296.01" width="34.3" height="13.17" fill="#60ff9f"/>
<rect x="387.9" y="296.01" width="34.3" height="13.17" fill="#9fff60"/>
<rect x="421.7" y="296.01" width="34.3" height="13.17" fill="#00bfff"/>
<rect x="455.5" y="296.01" width="34.3" height="13.17" fill="#60ff9f"/>
<rect x="489.3" y="296.01" width="34.3" height="13.17" fill="#40ffbf"/>
<rect x="523.1" y="296.01" width="34.3" height="13.17" fill="#80ff80"/>
<rect x="556.9" y="296.01" width="68.1" height="13.17" fill="#40ffbf"/>
<rect x="624.5" y="296.01" width="34.3" height="13.17" fill="#80ff80"/>
<rect x="658.3" y="296.01" width="34.3" height="13.17" fill="#40ffbf"/>
<rect x="692.1" y="296.01" width="34.3" height="13.17" fill="#60ff9f"/>
<rect x="725.9" y="296.01" width="34.3" height="13.17" fill="#20ffdf"/>
<rect x="759.7" y="296.01" width="34.3" height="13.17" fill="#00dfff"/>
<rect x="793.5" y="296.01" width="34.3" height="13.17" fill="#00ffff"/>
<rect x="827.3" y="296.01" width="34.3" height="13.17" fill="#009fff"/>
<rect x="861.1" y="296.01" width="101.9" height="13.17" fill="#60ff9f"/>
<rect x="962.5" y="296.01" width="34.3" height="13.17" fill="#00ffff"/>
<rect x="996.3" y="296.01" width="34.3" height="13.17" fill="#40ffbf"/>
<rect x="1030.1" y="296.01" width="34.3" height="13.17" fill="#00bfff"/>
<rect x="1063.9" y="296.01" width="24.1" height="13.17" fill="#40ffbf"/>
<rect x="156.0" y="308.68" width="29.6" height="13.17" fill="#00bfff"/>
<rect x="185.1" y="308.68" width="34.3" height="13.17" fill="#60ff9f"/>
<rect x="218.9" y="308.68" width="34.3" height="13.17" fill="#9fff60"/>
<rect x="252.7" y="308.68" width="34.3" height="13.17" fill="#bfff40"/>
<rect x="286.5" y="308.68" width="34.3" height="13.17" fill="#40ffbf"/>
<rect x="320.3" y="308.68" width="34.3" height="13.17" fill="#9fff60"/>
<rect x="354.1" y="308.68" width="34.3" height="13.17" fill="#20ffdf"/>
<rect x="387.9" y="308.68" width="34.3" height="13.17" fill="#60ff9f"/>
<rect x="421.7" y="308.68" width="34.3" height="13.17" fill="#20ffdf"/>
<rect x="455.5" y="308.68" width="34.3" height="13.17" fill="#80ff80"/>
<rect x="489.3" y="308.68" width="34.3" height="13.17" fill="#40ffbf"/>
<rect x="523.1" y="308.68" width="101.9" height="13.17" fill="#00ffff"/>
<rect x="624.5" y="308.68" width="101.9" height="13.17" fill="#60ff9f"/>
<rect x="725.9" y="308.68" width="34.3" height="13.17" fill="#80ff80"/>
<rect x="759.7" y="308.68" width="34.3" height="13.17" fill="#00dfff"/>
<rect x="793.5" y="308.68" width="34.3" height="13.17" fill="#60ff9f"/>
<rect x="827.3" y="308.68" width="34.3" height="13.17" fill="#00dfff"/>
<rect x="861.1" y="308.68" width="68.1" height="13.17" fill="#20ffdf"/>
<rect x="928.7" y="308.68" width="34.3" height="13.17" fill="#60ff9f"/>
<rect x="962.5" y="308.68" width="34.3" height="13.17" fill="#80ff80"/>
<rect x="996.3" y="308.68" width="34.3" height="13.17" fill="#40ffbf"/>
<rect x="1030.1" y="308.68" width="34.3" height="13.17" fill="#60ff9f"/>
<rect x="1063.9" y="308.68" width="24.1" height="13.17" fill="#009fff"/>
<rect x="156.0" y="321.34" width="29.6" height="13.17" fill="#00dfff"/>
<rect x="185.1" y="321.34" width="68.1" height="13.17" fill="#80ff80"/>
<rect x="252.7" y="321.34" width="34.3" height="13.17" fill="#9fff60"/>
<rect x="286.5" y="321.34" width="34.3" height="13.17" fill="#20ffdf"/>
<rect x="320.3" y="321.34" width="34.3" height="13.17" fill="#40ffbf"/>
<rect x="354.1" y="321.34" width="34.3" height="13.17" fill="#20ffdf"/>
<rect x="387.9" y="321.34" width="34.3" height="13.17" fill="#0060ff"/>
<rect x="421.7" y="321.34" width="34.3" height="13.17" fill="#00ffff"/>
<rect x="455.5" y="321.34" width="68.1" height="13.17" fill="#60ff9f"/>
<rect x="523.1" y="321.34" width="34.3" height="13.17" fill="#00ffff"/>
<rect x="556.9" y="321.34" width="34.3" height="13.17" fill="#40ffbf"/>
<rect x="590.7" y="321.34" width="34.3" height="13.17" fill="#00bfff"/>
<rect x="624.5" y="321.34" width="34.3" height="13.17" fill="#00ffff"/>
<rect x="658.3" y="321.34" width="68.1" height="13.17" fill="#40ffbf"/>
<rect x="725.9" y="321.34" width="34.3" height="13.17" fill="#60ff9f"/>
<rect x="759.7" y="321.34" width="34.3" height="13.17" fill="#20ffdf"/>
<rect x="793.5" y="321.34" width="34.3" height="13.17" fill="#80ff80"/>
<rect x="827.3" y="321.34" width="34.3" height="13.17" fill="#40ffbf"/>
<rect x="861.1" y="321.34" width="34.3" height="13.17" fill="#00ffff"/>
<rect x="894.9" y="321.34" width="34.3" height="13.17" fill="#40ffbf"/>
<rect x="928.7" y="321.34" width="34.3" height="13.17" fill="#60ff9f"/>
<rect x="962.5" y="321.34" width="68.1" height="13.17" fill="#40ffbf"/>
<rect x="1030.1" y="321.34" width="34.3" height="13.17" fill="#80ff80"/>
<rect x="1063.9" y="321.34" width="24.1" height="13.17" fill="#00bfff"/>
<rect x="156.0" y="334.01" width="29.6" height="13.17" fill="#00ffff"/>
<rect x="185.1" y="334.01" width="68.1" height="13.17" fill="#80ff80"/>
<rect x="252.7" y="334.01" width="34.3" height="13.17" fill="#9fff60"/>
<rect x="286.5" y="334.01" width="34.3" height="13.17" fill="#00bfff"/>
<rect x="320.3" y="334.01" width="34.3" height="13.17" fill="#0000ff"/>
<rect x="354.1" y="334.01" width="34.3" height="13.17" fill="#00bfff"/>
<rect x="387.9" y="334.01" width="34.3" height="13.17" fill="#20ffdf"/>
<rect x="421.7" y="334.01" width="34.3" height="13.17" fill="#0080ff"/>
<rect x="455.5" y="334.01" width="34.3" height="13.17" fill="#0060ff"/>
<rect x="489.3" y="334.01" width="34.3" height="13.17" fill="#00ffff"/>
<rect x="523.1" y="334.01" width="34.3" height="13.17" fill="#00bfff"/>
<rect x="556.9" y="334.01" width="34.3" height="13.17" fill="#40ffbf"/>
<rect x="590.7" y="334.01" width="34.3" height="13.17" fill="#20ffdf"/>
<rect x="624.5" y="334.01" width="34.3" height="13.17" fill="#00bfff"/>
<rect x="658.3" y="334.01" width="34.3" height="13.17" fill="#40ffbf"/>
<rect x="692.1" y="334.01" width="34.3" height="13.17" fill="#00bfff"/>
<rect x="725.9" y="334.01" width="34.3" height="13.17" fill="#009fff"/>
<rect x="759.7" y="334.01" width="34.3" height="13.17" fill="#0080ff"/>
<rect x="793.5" y="334.01" width="34.3" height="13.17" fill="#40ffbf"/>
<rect x="827.3" y="334.01" width="34.3" height="13.17" fill="#00ffff"/>
<rect x="861.1" y="334.01" width="34.3" height="13.17" fill="#0060ff"/>
<rect x="894.9" y="334.01" width="34.3" height="13.17" fill="#00dfff"/>
<rect x="928.7" y="334.01" width="68.1" height="13.17" fill="#00ffff"/>
<rect x="996.3" y="334.01" width="34.3" height="13.17" fill="#009fff"/>
<rect x="1030.1" y="334.01" width="34.3" height="13.17" fill="#60ff9f"/>
<rect x="1063.9" y="334.01" width="24.1" height="13.17" fill="#00ffff"/>
<rect x="156.0" y="346.68" width="29.6" height="13.17" fill="#00dfff"/>
<rect x="185.1" y="346.68" width="34.3" height="13.17" fill="#40ffbf"/>
<rect x="218.9" y="346.68" width="34.3" height="13.17" fill="#20ffdf"/>
<rect x="252.7" y="346.68" width="68.1" height="13.17" fill="#40ffbf"/>
<rect x="320.3" y="346.68" width="68.1" height="13.17" fill="#00dfff"/>
<rect x="387.9" y="346.68" width="34.3" height="13.17" fill="#20ffdf"/>
<rect x="421.7" y="346.68" width="34.3" height="13.17" fill="#0000d2"/>
<rect x="455.5" y="346.68" width="34.3" height="13.17" fill="#009fff"/>
<rect x="489.3" y="346.68" width="34.3" height="13.17" fill="#00ffff"/>
<rect x="523.1" y="346.68" width="34.3" height="13.17" fill="#00bfff"/>
<rect x="556.9" y="346.68" width="34.3" height="13.17" fill="#40ffbf"/>
<rect x="590.7" y="346.68" width="34.3" height="13.17" fill="#20ffdf"/>
<rect x="624.5" y="346.68" width="34.3" height="13.17" fill="#00dfff"/>
<rect x="658.3" y="346.68" width="34.3" height="13.17" fill="#00bfff"/>
<rect x="692.1" y="346.68" width="68.1" height="13.17" fill="#009fff"/>
<rect x="759.7" y="346.68" width="34.3" height="13.17" fill="#0020ff"/>
<rect x="793.5" y="346.68" width="34.3" height="13.17" fill="#009fff"/>
<rect x="827.3" y="346.68" width="34.3" height="13.17" fill="#00dfff"/>
<rect x="861.1" y="346.68" width="34.3" height="13.17" fill="#00bfff"/>
<rect x="894.9" y="346.68" width="34.3" height="13.17" fill="#009fff"/>
<rect x="928.7" y="346.68" width="34.3" height="13.17" fill="#0060ff"/>
<rect x="962.5" y="346.68" width="34.3" height="13.17" fill="#0080ff"/>
<rect x="996.3" y="346.68" width="34.3" height="13.17" fill="#0020ff"/>
<rect x="1030.1" y="346.68" width="34.3" height="13.17" fill="#40ffbf"/>
<rect x="1063.9" y="346.68" width="24.1" height="13.17" fill="#00ffff"/>
<rect x="156.0" y="359.35" width="29.6" height="13.17" fill="#00dfff"/>
<rect x="185.1" y="359.35" width="34.3" height="13.17" fill="#009fff"/>
<rect x="218.9" y="359.35" width="68.1" height="13.17" fill="#20ffdf"/>
<rect x="286.5" y="359.35" width="34.3" height="13.17" fill="#60ff9f"/>
<rect x="320.3" y="359.35" width="34.3" height="13.17" fill="#00dfff"/>
<rect x="354.1" y="359.35" width="34.3" height="13.17" fill="#00ffff"/>
<rect x="387.9" y="359.35" width="34.3" height="13.17" fill="#20ffdf"/>
<rect x="421.7" y="359.35" width="34.3" height="13.17" fill="#40ffbf"/>
<rect x="455.5" y="359.35" width="34.3" height="13.17" fill="#00bfff"/>
<rect x="489.3" y="359.35" width="68.1" height="13.17" fill="#20ffdf"/>
<rect x="556.9" y="359.35" width="34.3" height="13.17" fill="#60ff9f"/>
<rect x="590.7" y="359.35" width="68.1" height="13.17" fill="#20ffdf"/>
<rect x="658.3" y="359.35" width="34.3" height="13.17" fill="#80ff80"/>
<rect x="692.1" y="359.35" width="34.3" height="13.17" fill="#20ffdf"/>
<rect x="725.9" y="359.35" width="34.3" height="13.17" fill="#00dfff"/>
<rect x="759.7" y="359.35" width="34.3" height="13.17" fill="#00bfff"/>
<rect x="793.5" y="359.35" width="34.3" height="13.17" fill="#0000ff"/>
<rect x="827.3" y="359.35" width="34.3" height="13.17" fill="#00dfff"/>
<rect x="861.1" y="359.35" width="68.1" height="13.17" fill="#20ffdf"/>
<rect x="928.7" y="359.35" width="34.3" height="13.17" fill="#00bfff"/>
<rect x="962.5" y="359.35" width="34.3" height="13.17" fill="#0080ff"/>
<rect x="996.3" y="359.35" width="34.3" height="13.17" fill="#00bfff"/>
<rect x="1030.1" y="359.35" width="34.3" height="13.17" fill="#20ffdf"/>
<rect x="1063.9" y="359.35" width="24.1" height="13.17" fill="#00ffff"/>
<rect x="156.0" y="372.01" width="29.6" height="13.17" fill="#0080ff"/>
<rect x="185.1" y="372.01" width="34.3" height="13.17" fill="#00bfff"/>
<rect x="218.9" y="372.01" width="34.3" height="13.17" fill="#009fff"/>
<rect x="252.7" y="372.01" width="34.3" height="13.17" fill="#00ffff"/>
<rect x="286.5" y="372.01" width="34.3" height="13.17" fill="#80ff80"/>
<rect x="320.3" y="372.01" width="34.3" height="13.17" fill="#20ffdf"/>
<rect x="354.1" y="372.01" width="34.3" height="13.17" fill="#00dfff"/>
<rect x="387.9" y="372.01" width="34.3" height="13.17" fill="#009fff"/>
<rect x="421.7" y="372.01" width="34.3" height="13.17" fill="#60ff9f"/>
<rect x="455.5" y="372.01" width="34.3" height="13.17" fill="#40ffbf"/>
<rect x="489.3" y="372.01" width="34.3" height="13.17" fill="#0040ff"/>
<rect x="523.1" y="372.01" width="34.3" height="13.17" fill="#60ff9f"/>
<rect x="556.9" y="372.01" width="34.3" height="13.17" fill="#009fff"/>
<rect x="590.7" y="372.01" width="68.1" height="13.17" fill="#9fff60"/>
<rect x="658.3" y="372.01" width="34.3" height="13.17" fill="#bfff40"/>
<rect x="692.1" y="372.01" width="34.3" height="13.17" fill="#9fff60"/>
<rect x="725.9" y="372.01" width="34.3" height="13.17" fill="#80ff80"/>
<rect x="759.7" y="372.01" width="34.3" height="13.17" fill="#20ffdf"/>
<rect x="793.5" y="372.01" width="34.3" height="13.17" fill="#009fff"/>
<rect x="827.3" y="372.01" width="34.3" height="13.17" fill="#00ffff"/>
<rect x="861.1" y="372.01" width="34.3" height="13.17" fill="#20ffdf"/>
<rect x="894.9" y="372.01" width="34.3" height="13.17" fill="#60ff9f"/>
<rect x="928.7" y="372.01" width="68.1" height="13.17" fill="#40ffbf"/>
<rect x="996.3" y="372.01" width="34.3" height="13.17" fill="#00dfff"/>
<rect x="1030.1" y="372.01" width="34.3" height="13.17" fill="#20ffdf"/>
<rect x="1063.9" y="372.01" width="24.1" height="13.17" fill="#9fff60"/>
<rect x="156.0" y="384.68" width="63.4" height="13.17" fill="#009fff"/>
<rect x="218.9" y="384.68" width="68.1" height="13.17" fill="#0060ff"/>
<rect x="286.5" y="384.68" width="68.1" height="13.17" fill="#80ff80"/>
<rect x="354.1" y="384.68" width="68.1" height="13.17" fill="#9fff60"/>
<rect x="421.7" y="384.68" width="34.3" height="13.17" fill="#ffdf00"/>
<rect x="455.5" y="384.68" width="68.1" height="13.17" fill="#ffbf00"/>
<rect x="523.1" y="384.68" width="34.3" height="13.17" fill="#40ffbf"/>
<rect x="556.9" y="384.68" width="34.3" height="13.17" fill="#ff9f00"/>
<rect x="590.7" y="384.68" width="34.3" height="13.17" fill="#ff6000"/>
<rect x="624.5" y="384.68" width="68.1" height="13.17" fill="#ff4000"/>
<rect x="692.1" y="384.68" width="34.3" height="13.17" fill="#ff8000"/>
<rect x="725.9" y="384.68" width="34.3" height="13.17" fill="#ffdf00"/>
<rect x="759.7" y="384.68" width="34.3" height="13.17" fill="#9fff60"/>
<rect x="793.5" y="384.68" width="34.3" height="13.17" fill="#ffff00"/>
<rect x="827.3" y="384.68" width="68.1" height="13.17" fill="#ffbf00"/>
<rect x="894.9" y="384.68" width="34.3" height="13.17" fill="#ff9f00"/>
<rect x="928.7" y="384.68" width="68.1" height="13.17" fill="#fff200"/>
<rect x="996.3" y="384.68" width="68.1" height="13.17" fill="#ff8000"/>
<rect x="1063.9" y="384.68" width="24.1" height="13.17" fill="#ffbf00"/>
<rect x="156.0" y="397.35" width="63.4" height="13.17" fill="#00ffff"/>
<rect x="218.9" y="397.35" width="68.1" height="13.17" fill="#00dfff"/>
<rect x="286.5" y="397.35" width="34.3" height="13.17" fill="#80ff80"/>
<rect x="320.3" y="397.35" width="68.1" height="13.17" fill="#dfff20"/>
<rect x="387.9" y="397.35" width="34.3" height="13.17" fill="#ff9f00"/>
<rect x="421.7" y="397.35" width="169.5" height="13.17" fill="#ff8000"/>
<rect x="590.7" y="397.35" width="34.3" height="13.17" fill="#ff4000"/>
<rect x="624.5" y="397.35" width="34.3" height="13.17" fill="#ec0000"/>
<rect x="658.3" y="397.35" width="34.3" height="13.17" fill="#ff1300"/>
<rect x="692.1" y="397.35" width="34.3" height="13.17" fill="#ff2d00"/>
<rect x="725.9" y="397.35" width="34.3" height="13.17" fill="#ff6000"/>
<rect x="759.7" y="397.35" width="34.3" height="13.17" fill="#ff8000"/>
<rect x="793.5" y="397.35" width="34.3" height="13.17" fill="#ff4000"/>
<rect x="827.3" y="397.35" width="34.3" height="13.17" fill="#ff6000"/>
<rect x="861.1" y="397.35" width="34.3" height="13.17" fill="#ffff00"/>
<rect x="894.9" y="397.35" width="68.1" height="13.17" fill="#ff8000"/>
<rect x="962.5" y="397.35" width="34.3" height="13.17" fill="#ff6000"/>
<rect x="996.3" y="397.35" width="34.3" height="13.17" fill="#ff2000"/>
<rect x="1030.1" y="397.35" width="57.9" height="13.17" fill="#ff6000"/>
<rect x="156.0" y="410.02" width="29.6" height="13.17" fill="#00bfff"/>
<rect x="185.1" y="410.02" width="34.3" height="13.17" fill="#80ff80"/>
<rect x="218.9" y="410.02" width="34.3" height="13.17" fill="#60ff9f"/>
<rect x="252.7" y="410.02" width="34.3" height="13.17" fill="#20ffdf"/>
<rect x="286.5" y="410.02" width="68.1" height="13.17" fill="#9fff60"/>
<rect x="354.1" y="410.02" width="34.3" height="13.17" fill="#ff9f00"/>
<rect x="387.9" y="410.02" width="34.3" height="13.17" fill="#ffbf00"/>
<rect x="421.7" y="410.02" width="34.3" height="13.17" fill="#ffdf00"/>
<rect x="455.5" y="410.02" width="34.3" height="13.17" fill="#ffff00"/>
<rect x="489.3" y="410.02" width="34.3" height="13.17" fill="#ffbf00"/>
<rect x="523.1" y="410.02" width="34.3" height="13.17" fill="#ff8000"/>
<rect x="556.9" y="410.02" width="34.3" height="13.17" fill="#ffdf00"/>
<rect x="590.7" y="410.02" width="34.3" height="13.17" fill="#ff9f00"/>
<rect x="624.5" y="410.02" width="34.3" height="13.17" fill="#ff4000"/>
<rect x="658.3" y="410.02" width="34.3" height="13.17" fill="#ff8000"/>
<rect x="692.1" y="410.02" width="34.3" height="13.17" fill="#ff6000"/>
<rect x="725.9" y="410.02" width="34.3" height="13.17" fill="#ff4000"/>
<rect x="759.7" y="410.02" width="34.3" height="13.17" fill="#ff6000"/>
<rect x="793.5" y="410.02" width="34.3" height="13.17" fill="#ff1a00"/>
<rect x="827.3" y="410.02" width="34.3" height="13.17" fill="#ff6000"/>
<rect x="861.1" y="410.02" width="34.3" height="13.17" fill="#ffdf00"/>
<rect x="894.9" y="410.02" width="34.3" height="13.17" fill="#ff8000"/>
<rect x="928.7" y="410.02" width="68.1" height="13.17" fill="#ff6000"/>
<rect x="996.3" y="410.02" width="34.3" height="13.17" fill="#ff2000"/>
<rect x="1030.1" y="410.02" width="34.3" height="13.17" fill="#ffdf00"/>
<rect x="1063.9" y="410.02" width="24.1" height="13.17" fill="#ff4000"/>
<rect x="156.0" y="422.68" width="29.6" height="13.17" fill="#80ff80"/>
<rect x="185.1" y="422.68" width="34.3" height="13.17" fill="#ffff00"/>
<rect x="218.9" y="422.68" width="34.3" height="13.17" fill="#20ffdf"/>
<rect x="252.7" y="422.68" width="34.3" height="13.17" fill="#00bfff"/>
<rect x="286.5" y="422.68" width="34.3" height="13.17" fill="#80ff80"/>
<rect x="320.3" y="422.68" width="34.3" height="13.17" fill="#ffdf00"/>
<rect x="354.1" y="422.68" width="34.3" height="13.17" fill="#ff4000"/>
<rect x="387.9" y="422.68" width="34.3" height="13.17" fill="#9fff60"/>
<rect x="421.7" y="422.68" width="34.3" height="13.17" fill="#ffdf00"/>
<rect x="455.5" y="422.68" width="34.3" height="13.17" fill="#ffff00"/>
<rect x="489.3" y="422.68" width="34.3" height="13.17" fill="#ffdf00"/>
<rect x="523.1" y="422.68" width="34.3" height="13.17" fill="#ffff00"/>
<rect x="556.9" y="422.68" width="68.1" height="13.17" fill="#ff6000"/>
<rect x="624.5" y="422.68" width="34.3" height="13.17" fill="#ff9f00"/>
<rect x="658.3" y="422.68" width="68.1" height="13.17" fill="#ff8000"/>
<rect x="725.9" y="422.68" width="34.3" height="13.17" fill="#ff6000"/>
<rect x="759.7" y="422.68" width="34.3" height="13.17" fill="#ffdf00"/>
<rect x="793.5" y="422.68" width="34.3" height="13.17" fill="#ff1a00"/>
<rect x="827.3" y="422.68" width="34.3" height="13.17" fill="#ff2000"/>
<rect x="861.1" y="422.68" width="34.3" height="13.17" fill="#ffbf00"/>
<rect x="894.9" y="422.68" width="34.3" height="13.17" fill="#ffdf00"/>
<rect x="928.7" y="422.68" width="34.3" height="13.17" fill="#ffbf00"/>
<rect x="962.5" y="422.68" width="68.1" height="13.17" fill="#ff6000"/>
<rect x="1030.1" y="422.68" width="34.3" height="13.17" fill="#ffdf00"/>
<rect x="1063.9" y="422.68" width="24.1" height="13.17" fill="#ff6000"/>
<rect x="156.0" y="435.35" width="29.6" height="13.17" fill="#80ff80"/>
<rect x="185.1" y="435.35" width="34.3" height="13.17" fill="#ffbf00"/>
<rect x="218.9" y="435.35" width="34.3" height="13.17" fill="#80ff80"/>
<rect x="252.7" y="435.35" width="34.3" height="13.17" fill="#00ffff"/>
<rect x="286.5" y="435.35" width="34.3" height="13.17" fill="#60ff9f"/>
<rect x="320.3" y="435.35" width="68.1" height="13.17" fill="#ff6000"/>
<rect x="387.9" y="435.35" width="68.1" height="13.17" fill="#ffff00"/>
<rect x="455.5" y="435.35" width="34.3" height="13.17" fill="#ffbf00"/>
<rect x="489.3" y="435.35" width="34.3" height="13.17" fill="#ff9f00"/>
<rect x="523.1" y="435.35" width="34.3" height="13.17" fill="#ffdf00"/>
<rect x="556.9" y="435.35" width="34.3" height="13.17" fill="#ff9f00"/>
<rect x="590.7" y="435.35" width="34.3" height="13.17" fill="#ff4000"/>
<rect x="624.5" y="435.35" width="34.3" height="13.17" fill="#ff9f00"/>
<rect x="658.3" y="435.35" width="34.3" height="13.17" fill="#ffbf00"/>
<rect x="692.1" y="435.35" width="34.3" height="13.17" fill="#ff9f00"/>
<rect x="725.9" y="435.35" width="34.3" height="13.17" fill="#ff4000"/>
<rect x="759.7" y="435.35" width="34.3" height="13.17" fill="#ff6000"/>
<rect x="793.5" y="435.35" width="34.3" height="13.17" fill="#ff4000"/>
<rect x="827.3" y="435.35" width="34.3" height="13.17" fill="#ff2000"/>
<rect x="861.1" y="435.35" width="34.3" height="13.17" fill="#ffbf00"/>
<rect x="894.9" y="435.35" width="34.3" height="13.17" fill="#ffdf00"/>
<rect x="928.7" y="435.35" width="34.3" height="13.17" fill="#ffbf00"/>
<rect x="962.5" y="435.35" width="34.3" height="13.17" fill="#ff6000"/>
<rect x="996.3" y="435.35" width="34.3" height="13.17" fill="#ff9f00"/>
<rect x="1030.1" y="435.35" width="34.3" height="13.17" fill="#ffdf00"/>
<rect x="1063.9" y="435.35" width="24.1" height="13.17" fill="#ff8000"/>
<rect x="156.0" y="448.02" width="29.6" height="13.17" fill="#40ffbf"/>
<rect x="185.1" y="448.02" width="34.3" height="13.17" fill="#ffbf00"/>
<rect x="218.9" y="448.02" width="34.3" height="13.17" fill="#f2ff0d"/>
<rect x="252.7" y="448.02" width="34.3" height="13.17" fill="#40ffbf"/>
<rect x="286.5" y="448.02" width="34.3" height="13.17" fill="#00dfff"/>
<rect x="320.3" y="448.02" width="34.3" height="13.17" fill="#ff2000"/>
<rect x="354.1" y="448.02" width="34.3" height="13.17" fill="#ffbf00"/>
<rect x="387.9" y="448.02" width="34.3" height="13.17" fill="#ffdf00"/>
<rect x="421.7" y="448.02" width="34.3" height="13.17" fill="#dfff20"/>
<rect x="455.5" y="448.02" width="34.3" height="13.17" fill="#f5ff0a"/>
<rect x="489.3" y="448.02" width="34.3" height="13.17" fill="#ffdf00"/>
<rect x="523.1" y="448.02" width="34.3" height="13.17" fill="#ffbf00"/>
<rect x="556.9" y="448.02" width="34.3" height="13.17" fill="#ffdf00"/>
<rect x="590.7" y="448.02" width="34.3" height="13.17" fill="#ff4000"/>
<rect x="624.5" y="448.02" width="34.3" height="13.17" fill="#ff2000"/>
<rect x="658.3" y="448.02" width="34.3" height="13.17" fill="#ffbf00"/>
<rect x="692.1" y="448.02" width="34.3" height="13.17" fill="#ff8000"/>
<rect x="725.9" y="448.02" width="34.3" height="13.17" fill="#ff6000"/>
<rect x="759.7" y="448.02" width="34.3" height="13.17" fill="#ff4000"/>
<rect x="793.5" y="448.02" width="101.9" height="13.17" fill="#ff6000"/>
<rect x="894.9" y="448.02" width="34.3" height="13.17" fill="#ff8000"/>
<rect x="928.7" y="448.02" width="68.1" height="13.17" fill="#ff6000"/>
<rect x="996.3" y="448.02" width="34.3" height="13.17" fill="#ff9f00"/>
<rect x="1030.1" y="448.02" width="57.9" height="13.17" fill="#ff6000"/>
<rect x="156.0" y="460.68" width="29.6" height="13.17" fill="#00ffff"/>
<rect x="185.1" y="460.68" width="34.3" height="13.17" fill="#dfff20"/>
<rect x="218.9" y="460.68" width="34.3" height="13.17" fill="#ffdf00"/>
<rect x="252.7" y="460.68" width="34.3" height="13.17" fill="#00ffff"/>
<rect x="286.5" y="460.68" width="34.3" height="13.17" fill="#bfff40"/>
<rect x="320.3" y="460.68" width="68.1" height="13.17" fill="#ff2000"/>
<rect x="387.9" y="460.68" width="34.3" height="13.17" fill="#ff9f00"/>
<rect x="421.7" y="460.68" width="34.3" height="13.17" fill="#ffbf00"/>
<rect x="455.5" y="460.68" width="34.3" height="13.17" fill="#ff6000"/>
<rect x="489.3" y="460.68" width="34.3" height="13.17" fill="#ff9f00"/>
<rect x="523.1" y="460.68" width="34.3" height="13.17" fill="#ffdf00"/>
<rect x="556.9" y="460.68" width="34.3" height="13.17" fill="#ffbf00"/>
<rect x="590.7" y="460.68" width="34.3" height="13.17" fill="#ff8000"/>
<rect x="624.5" y="460.68" width="34.3" height="13.17" fill="#ff2000"/>
<rect x="658.3" y="460.68" width="34.3" height="13.17" fill="#ffbf00"/>
<rect x="692.1" y="460.68" width="34.3" height="13.17" fill="#ff8000"/>
<rect x="725.9" y="460.68" width="34.3" height="13.17" fill="#ff6000"/>
<rect x="759.7" y="460.68" width="34.3" height="13.17" fill="#ff4000"/>
<rect x="793.5" y="460.68" width="34.3" height="13.17" fill="#ff0d00"/>
<rect x="827.3" y="460.68" width="34.3" height="13.17" fill="#ff6000"/>
<rect x="861.1" y="460.68" width="34.3" height="13.17" fill="#ff9f00"/>
<rect x="894.9" y="460.68" width="34.3" height="13.17" fill="#ff8000"/>
<rect x="928.7" y="460.68" width="68.1" height="13.17" fill="#ff6000"/>
<rect x="996.3" y="460.68" width="34.3" height="13.17" fill="#ff2000"/>
<rect x="1030.1" y="460.68" width="34.3" height="13.17" fill="#ff4000"/>
<rect x="1063.9" y="460.68" width="24.1" height="13.17" fill="#ff6000"/>
<rect x="156.0" y="473.35" width="29.6" height="13.17" fill="#60ff9f"/>
<rect x="185.1" y="473.35" width="34.3" height="13.17" fill="#0080ff"/>
<rect x="218.9" y="473.35" width="34.3" height="13.17" fill="#ffff00"/>
<rect x="252.7" y="473.35" width="34.3" height="13.17" fill="#80ff80"/>
<rect x="286.5" y="473.35" width="34.3" height="13.17" fill="#bfff40"/>
<rect x="320.3" y="473.35" width="34.3" height="13.17" fill="#ff6000"/>
<rect x="354.1" y="473.35" width="34.3" height="13.17" fill="#ff4000"/>
<rect x="387.9" y="473.35" width="68.1" height="13.17" fill="#ffbf00"/>
<rect x="455.5" y="473.35" width="34.3" height="13.17" fill="#ff6000"/>
<rect x="489.3" y="473.35" width="34.3" height="13.17" fill="#ff9f00"/>
<rect x="523.1" y="473.35" width="34.3" height="13.17" fill="#00dfff"/>
<rect x="556.9" y="473.35" width="34.3" height="13.17" fill="#ff9f00"/>
<rect x="590.7" y="473.35" width="34.3" height="13.17" fill="#80ff80"/>
<rect x="624.5" y="473.35" width="34.3" height="13.17" fill="#ffbf00"/>
<rect x="658.3" y="473.35" width="34.3" height="13.17" fill="#ff6000"/>
<rect x="692.1" y="473.35" width="68.1" height="13.17" fill="#ff8000"/>
<rect x="759.7" y="473.35" width="34.3" height="13.17" fill="#ff4000"/>
<rect x="793.5" y="473.35" width="68.1" height="13.17" fill="#ff2000"/>
<rect x="861.1" y="473.35" width="34.3" height="13.17" fill="#ff6000"/>
<rect x="894.9" y="473.35" width="34.3" height="13.17" fill="#ff1a00"/>
<rect x="928.7" y="473.35" width="34.3" height="13.17" fill="#ffdf00"/>
<rect x="962.5" y="473.35" width="34.3" height="13.17" fill="#ff8000"/>
<rect x="996.3" y="473.35" width="34.3" height="13.17" fill="#e50000"/>
<rect x="1030.1" y="473.35" width="34.3" height="13.17" fill="#ff6000"/>
<rect x="1063.9" y="473.35" width="24.1" height="13.17" fill="#ffbf00"/>
<rect x="156.0" y="486.02" width="29.6" height="13.17" fill="#bfff40"/>
<rect x="185.1" y="486.02" width="34.3" height="13.17" fill="#80ff80"/>
<rect x="218.9" y="486.02" width="34.3" height="13.17" fill="#f2ff0d"/>
<rect x="252.7" y="486.02" width="34.3" height="13.17" fill="#ffdf00"/>
<rect x="286.5" y="486.02" width="34.3" height="13.17" fill="#ff8000"/>
<rect x="320.3" y="486.02" width="34.3" height="13.17" fill="#ff2000"/>
<rect x="354.1" y="486.02" width="68.1" height="13.17" fill="#ff9f00"/>
<rect x="421.7" y="486.02" width="34.3" height="13.17" fill="#ffff00"/>
<rect x="455.5" y="486.02" width="34.3" height="13.17" fill="#ff4000"/>
<rect x="489.3" y="486.02" width="34.3" height="13.17" fill="#ff6000"/>
<rect x="523.1" y="486.02" width="34.3" height="13.17" fill="#ffdf00"/>
<rect x="556.9" y="486.02" width="68.1" height="13.17" fill="#ff9f00"/>
<rect x="624.5" y="486.02" width="34.3" height="13.17" fill="#ffdf00"/>
<rect x="658.3" y="486.02" width="34.3" height="13.17" fill="#ffbf00"/>
<rect x="692.1" y="486.02" width="101.9" height="13.17" fill="#ff8000"/>
<rect x="793.5" y="486.02" width="34.3" height="13.17" fill="#ff6000"/>
<rect x="827.3" y="486.02" width="34.3" height="13.17" fill="#ff4000"/>
<rect x="861.1" y="486.02" width="34.3" height="13.17" fill="#ff1300"/>
<rect x="894.9" y="486.02" width="34.3" height="13.17" fill="#ef0000"/>
<rect x="928.7" y="486.02" width="68.1" height="13.17" fill="#ff6000"/>
<rect x="996.3" y="486.02" width="34.3" height="13.17" fill="#ef0000"/>
<rect x="1030.1" y="486.02" width="34.3" height="13.17" fill="#ff6000"/>
<rect x="1063.9" y="486.02" width="24.1" height="13.17" fill="#ffbf00"/>
<rect x="156.0" y="498.69" width="29.6" height="13.17" fill="#80ff80"/>
<rect x="185.1" y="498.69" width="34.3" height="13.17" fill="#ffbf00"/>
<rect x="218.9" y="498.69" width="34.3" height="13.17" fill="#dfff20"/>
<rect x="252.7" y="498.69" width="34.3" height="13.17" fill="#ff8000"/>
<rect x="286.5" y="498.69" width="34.3" height="13.17" fill="#ff6000"/>
<rect x="320.3" y="498.69" width="101.9" height="13.17" fill="#ff9f00"/>
<rect x="421.7" y="498.69" width="34.3" height="13.17" fill="#ffdf00"/>
<rect x="455.5" y="498.69" width="34.3" height="13.17" fill="#ff4000"/>
<rect x="489.3" y="498.69" width="34.3" height="13.17" fill="#ffbf00"/>
<rect x="523.1" y="498.69" width="34.3" height="13.17" fill="#ff8000"/>
<rect x="556.9" y="498.69" width="34.3" height="13.17" fill="#ff9f00"/>
<rect x="590.7" y="498.69" width="34.3" height="13.17" fill="#ff6000"/>
<rect x="624.5" y="498.69" width="68.1" height="13.17" fill="#bfff40"/>
<rect x="692.1" y="498.69" width="34.3" height="13.17" fill="#ffdf00"/>
<rect x="725.9" y="498.69" width="34.3" height="13.17" fill="#ffbf00"/>
<rect x="759.7" y="498.69" width="34.3" height="13.17" fill="#ff9f00"/>
<rect x="793.5" y="498.69" width="34.3" height="13.17" fill="#ff8000"/>
<rect x="827.3" y="498.69" width="34.3" height="13.17" fill="#ff6000"/>
<rect x="861.1" y="498.69" width="34.3" height="13.17" fill="#ff3300"/>
<rect x="894.9" y="498.69" width="34.3" height="13.17" fill="#ff2900"/>
<rect x="928.7" y="498.69" width="34.3" height="13.17" fill="#ff2600"/>
<rect x="962.5" y="498.69" width="34.3" height="13.17" fill="#ff4000"/>
<rect x="996.3" y="498.69" width="34.3" height="13.17" fill="#ff6000"/>
<rect x="1030.1" y="498.69" width="34.3" height="13.17" fill="#ff2000"/>
<rect x="1063.9" y="498.69" width="24.1" height="13.17" fill="#ff8000"/>
<rect x="156.0" y="511.35" width="29.6" height="13.17" fill="#00ffff"/>
<rect x="185.1" y="511.35" width="34.3" height="13.17" fill="#ffbf00"/>
<rect x="218.9" y="511.35" width="34.3" height="13.17" fill="#ff9f00"/>
<rect x="252.7" y="511.35" width="34.3" height="13.17" fill="#ffff00"/>
<rect x="286.5" y="511.35" width="34.3" height="13.17" fill="#ff6000"/>
<rect x="320.3" y="511.35" width="34.3" height="13.17" fill="#ff4000"/>
<rect x="354.1" y="511.35" width="34.3" height="13.17" fill="#ff8000"/>
<rect x="387.9" y="511.35" width="34.3" height="13.17" fill="#dfff20"/>
<rect x="421.7" y="511.35" width="68.1" height="13.17" fill="#ff8000"/>
<rect x="489.3" y="511.35" width="34.3" height="13.17" fill="#ffff00"/>
<rect x="523.1" y="511.35" width="34.3" height="13.17" fill="#ff6000"/>
<rect x="556.9" y="511.35" width="34.3" height="13.17" fill="#9fff60"/>
<rect x="590.7" y="511.35" width="101.9" height="13.17" fill="#ffdf00"/>
<rect x="692.1" y="511.35" width="34.3" height="13.17" fill="#f2ff0d"/>
<rect x="725.9" y="511.35" width="34.3" height="13.17" fill="#9fff60"/>
<rect x="759.7" y="511.35" width="34.3" height="13.17" fill="#bfff40"/>
<rect x="793.5" y="511.35" width="34.3" height="13.17" fill="#80ff80"/>
<rect x="827.3" y="511.35" width="34.3" height="13.17" fill="#ff9f00"/>
<rect x="861.1" y="511.35" width="101.9" height="13.17" fill="#ff6000"/>
<rect x="962.5" y="511.35" width="34.3" height="13.17" fill="#ffbf00"/>
<rect x="996.3" y="511.35" width="34.3" height="13.17" fill="#ffdf00"/>
<rect x="1030.1" y="511.35" width="34.3" height="13.17" fill="#ff4000"/>
<rect x="1063.9" y="511.35" width="24.1" height="13.17" fill="#ff8000"/>
<rect x="156.0" y="524.02" width="63.4" height="13.17" fill="#9fff60"/>
<rect x="218.9" y="524.02" width="34.3" height="13.17" fill="#ff8000"/>
<rect x="252.7" y="524.02" width="34.3" height="13.17" fill="#80ff80"/>
<rect x="286.5" y="524.02" width="34.3" height="13.17" fill="#ffdf00"/>
<rect x="320.3" y="524.02" width="34.3" height="13.17" fill="#ff8000"/>
<rect x="354.1" y="524.02" width="34.3" height="13.17" fill="#ff9f00"/>
<rect x="387.9" y="524.02" width="34.3" height="13.17" fill="#ffdf00"/>
<rect x="421.7" y="524.02" width="68.1" height="13.17" fill="#ff8000"/>
<rect x="489.3" y="524.02" width="34.3" height="13.17" fill="#ff9f00"/>
<rect x="523.1" y="524.02" width="34.3" height="13.17" fill="#ff8000"/>
<rect x="556.9" y="524.02" width="34.3" height="13.17" fill="#ffbf00"/>
<rect x="590.7" y="524.02" width="34.3" height="13.17" fill="#ffdf00"/>
<rect x="624.5" y="524.02" width="34.3" height="13.17" fill="#ffbf00"/>
<rect x="658.3" y="524.02" width="68.1" height="13.17" fill="#ffdf00"/>
<rect x="725.9" y="524.02" width="34.3" height="13.17" fill="#ffbf00"/>
<rect x="759.7" y="524.02" width="34.3" height="13.17" fill="#9fff60"/>
<rect x="793.5" y="524.02" width="34.3" height="13.17" fill="#40ffbf"/>
<rect x="827.3" y="524.02" width="34.3" height="13.17" fill="#009fff"/>
<rect x="861.1" y="524.02" width="34.3" height="13.17" fill="#ffec00"/>
<rect x="894.9" y="524.02" width="34.3" height="13.17" fill="#ff8000"/>
<rect x="928.7" y="524.02" width="34.3" height="13.17" fill="#ff6000"/>
<rect x="962.5" y="524.02" width="68.1" height="13.17" fill="#ffbf00"/>
<rect x="1030.1" y="524.02" width="34.3" height="13.17" fill="#ffdf00"/>
<rect x="1063.9" y="524.02" width="24.1" height="13.17" fill="#ffbf00"/>
<rect x="156.0" y="536.69" width="29.6" height="13.17" fill="#80ff80"/>
<rect x="185.1" y="536.69" width="34.3" height="13.17" fill="#9fff60"/>
<rect x="218.9" y="536.69" width="68.1" height="13.17" fill="#ffdf00"/>
<rect x="286.5" y="536.69" width="34.3" height="13.17" fill="#ffbf00"/>
<rect x="320.3" y="536.69" width="34.3" height="13.17" fill="#ffdf00"/>
<rect x="354.1" y="536.69" width="34.3" height="13.17" fill="#ff9f00"/>
<rect x="387.9" y="536.69" width="34.3" height="13.17" fill="#40ffbf"/>
<rect x="421.7" y="536.69" width="34.3" height="13.17" fill="#ff9f00"/>
<rect x="455.5" y="536.69" width="68.1" height="13.17" fill="#ffbf00"/>
<rect x="523.1" y="536.69" width="34.3" height="13.17" fill="#dfff20"/>
<rect x="556.9" y="536.69" width="34.3" height="13.17" fill="#f5ff0a"/>
<rect x="590.7" y="536.69" width="34.3" height="13.17" fill="#f9ff06"/>
<rect x="624.5" y="536.69" width="34.3" height="13.17" fill="#ffbf00"/>
<rect x="658.3" y="536.69" width="34.3" height="13.17" fill="#ffdf00"/>
<rect x="692.1" y="536.69" width="34.3" height="13.17" fill="#60ff9f"/>
<rect x="725.9" y="536.69" width="34.3" height="13.17" fill="#ffdf00"/>
<rect x="759.7" y="536.69" width="34.3" height="13.17" fill="#f2ff0d"/>
<rect x="793.5" y="536.69" width="34.3" height="13.17" fill="#20ffdf"/>
<rect x="827.3" y="536.69" width="34.3" height="13.17" fill="#60ff9f"/>
<rect x="861.1" y="536.69" width="34.3" height="13.17" fill="#9fff60"/>
<rect x="894.9" y="536.69" width="34.3" height="13.17" fill="#dfff20"/>
<rect x="928.7" y="536.69" width="34.3" height="13.17" fill="#ffbf00"/>
<rect x="962.5" y="536.69" width="34.3" height="13.17" fill="#ff8000"/>
<rect x="996.3" y="536.69" width="34.3" height="13.17" fill="#ffbf00"/>
<rect x="1030.1" y="536.69" width="34.3" height="13.17" fill="#ffec00"/>
<rect x="1063.9" y="536.69" width="24.1" height="13.17" fill="#9fff60"/>
<rect x="156.0" y="549.36" width="63.4" height="13.17" fill="#ffec00"/>
<rect x="218.9" y="549.36" width="34.3" height="13.17" fill="#ffdf00"/>
<rect x="252.7" y="549.36" width="34.3" height="13.17" fill="#dfff20"/>
<rect x="286.5" y="549.36" width="34.3" height="13.17" fill="#ffff00"/>
<rect x="320.3" y="549.36" width="34.3" height="13.17" fill="#dfff20"/>
<rect x="354.1" y="549.36" width="34.3" height="13.17" fill="#ffdf00"/>
<rect x="387.9" y="549.36" width="34.3" height="13.17" fill="#f2ff0d"/>
<rect x="421.7" y="549.36" width="34.3" height="13.17" fill="#ffdf00"/>
<rect x="455.5" y="549.36" width="34.3" height="13.17" fill="#bfff40"/>
<rect x="489.3" y="549.36" width="34.3" height="13.17" fill="#f2ff0d"/>
<rect x="523.1" y="549.36" width="34.3" height="13.17" fill="#bfff40"/>
<rect x="556.9" y="549.36" width="34.3" height="13.17" fill="#dfff20"/>
<rect x="590.7" y="549.36" width="34.3" height="13.17" fill="#bfff40"/>
<rect x="624.5" y="549.36" width="34.3" height="13.17" fill="#9fff60"/>
<rect x="658.3" y="549.36" width="34.3" height="13.17" fill="#ffff00"/>
<rect x="692.1" y="549.36" width="34.3" height="13.17" fill="#bfff40"/>
<rect x="725.9" y="549.36" width="68.1" height="13.17" fill="#dfff20"/>
<rect x="793.5" y="549.36" width="68.1" height="13.17" fill="#bfff40"/>
<rect x="861.1" y="549.36" width="34.3" height="13.17" fill="#ffff00"/>
<rect x="894.9" y="549.36" width="34.3" height="13.17" fill="#00bfff"/>
<rect x="928.7" y="549.36" width="34.3" height="13.17" fill="#9fff60"/>
<rect x="962.5" y="549.36" width="34.3" height="13.17" fill="#ffff00"/>
<rect x="996.3" y="549.36" width="68.1" height="13.17" fill="#ff9f00"/>
<rect x="1063.9" y="549.36" width="24.1" height="13.17" fill="#ecff13"/>
<rect x="156.0" y="562.02" width="29.6" height="13.17" fill="#ffdf00"/>
<rect x="185.1" y="562.02" width="34.3" height="13.17" fill="#ff8000"/>
<rect x="218.9" y="562.02" width="34.3" height="13.17" fill="#ffec00"/>
<rect x="252.7" y="562.02" width="34.3" height="13.17" fill="#20ffdf"/>
<rect x="286.5" y="562.02" width="34.3" height="13.17" fill="#40ffbf"/>
<rect x="320.3" y="562.02" width="34.3" height="13.17" fill="#80ff80"/>
<rect x="354.1" y="562.02" width="34.3" height="13.17" fill="#f2ff0d"/>
<rect x="387.9" y="562.02" width="34.3" height="13.17" fill="#dfff20"/>
<rect x="421.7" y="562.02" width="34.3" height="13.17" fill="#bfff40"/>
<rect x="455.5" y="562.02" width="34.3" height="13.17" fill="#9fff60"/>
<rect x="489.3" y="562.02" width="34.3" height="13.17" fill="#bfff40"/>
<rect x="523.1" y="562.02" width="34.3" height="13.17" fill="#40ffbf"/>
<rect x="556.9" y="562.02" width="68.1" height="13.17" fill="#dfff20"/>
<rect x="624.5" y="562.02" width="34.3" height="13.17" fill="#40ffbf"/>
<rect x="658.3" y="562.02" width="34.3" height="13.17" fill="#20ffdf"/>
<rect x="692.1" y="562.02" width="34.3" height="13.17" fill="#40ffbf"/>
<rect x="725.9" y="562.02" width="34.3" height="13.17" fill="#9fff60"/>
<rect x="759.7" y="562.02" width="34.3" height="13.17" fill="#60ff9f"/>
<rect x="793.5" y="562.02" width="34.3" height="13.17" fill="#9fff60"/>
<rect x="827.3" y="562.02" width="34.3" height="13.17" fill="#bfff40"/>
<rect x="861.1" y="562.02" width="34.3" height="13.17" fill="#f2ff0d"/>
<rect x="894.9" y="562.02" width="34.3" height="13.17" fill="#bfff40"/>
<rect x="928.7" y="562.02" width="34.3" height="13.17" fill="#00dfff"/>
<rect x="962.5" y="562.02" width="34.3" height="13.17" fill="#00ffff"/>
<rect x="996.3" y="562.02" width="34.3" height="13.17" fill="#bfff40"/>
<rect x="1030.1" y="562.02" width="57.9" height="13.17" fill="#ffdf00"/>
<rect x="156.0" y="574.69" width="29.6" height="13.17" fill="#bfff40"/>
<rect x="185.1" y="574.69" width="34.3" height="13.17" fill="#ff9f00"/>
<rect x="218.9" y="574.69" width="34.3" height="13.17" fill="#9fff60"/>
<rect x="252.7" y="574.69" width="34.3" height="13.17" fill="#009fff"/>
<rect x="286.5" y="574.69" width="34.3" height="13.17" fill="#9fff60"/>
<rect x="320.3" y="574.69" width="68.1" height="13.17" fill="#bfff40"/>
<rect x="387.9" y="574.69" width="34.3" height="13.17" fill="#00dfff"/>
<rect x="421.7" y="574.69" width="34.3" height="13.17" fill="#00ffff"/>
<rect x="455.5" y="574.69" width="34.3" height="13.17" fill="#60ff9f"/>
<rect x="489.3" y="574.69" width="34.3" height="13.17" fill="#80ff80"/>
<rect x="523.1" y="574.69" width="34.3" height="13.17" fill="#40ffbf"/>
<rect x="556.9" y="574.69" width="68.1" height="13.17" fill="#bfff40"/>
<rect x="624.5" y="574.69" width="34.3" height="13.17" fill="#00dfff"/>
<rect x="658.3" y="574.69" width="34.3" height="13.17" fill="#40ffbf"/>
<rect x="692.1" y="574.69" width="34.3" height="13.17" fill="#00ffff"/>
<rect x="725.9" y="574.69" width="34.3" height="13.17" fill="#9fff60"/>
<rect x="759.7" y="574.69" width="34.3" height="13.17" fill="#40ffbf"/>
<rect x="793.5" y="574.69" width="34.3" height="13.17" fill="#00ffff"/>
<rect x="827.3" y="574.69" width="34.3" height="13.17" fill="#9fff60"/>
<rect x="861.1" y="574.69" width="34.3" height="13.17" fill="#40ffbf"/>
<rect x="894.9" y="574.69" width="34.3" height="13.17" fill="#bfff40"/>
<rect x="928.7" y="574.69" width="34.3" height="13.17" fill="#00ffff"/>
<rect x="962.5" y="574.69" width="34.3" height="13.17" fill="#20ffdf"/>
<rect x="996.3" y="574.69" width="68.1" height="13.17" fill="#60ff9f"/>
<rect x="1063.9" y="574.69" width="24.1" height="13.17" fill="#bfff40"/>
<rect x="156.0" y="587.36" width="29.6" height="13.17" fill="#80ff80"/>
<rect x="185.1" y="587.36" width="34.3" height="13.17" fill="#00dfff"/>
<rect x="218.9" y="587.36" width="34.3" height="13.17" fill="#9fff60"/>
<rect x="252.7" y="587.36" width="34.3" height="13.17" fill="#40ffbf"/>
<rect x="286.5" y="587.36" width="34.3" height="13.17" fill="#80ff80"/>
<rect x="320.3" y="587.36" width="34.3" height="13.17" fill="#9fff60"/>
<rect x="354.1" y="587.36" width="34.3" height="13.17" fill="#80ff80"/>
<rect x="387.9" y="587.36" width="34.3" height="13.17" fill="#40ffbf"/>
<rect x="421.7" y="587.36" width="34.3" height="13.17" fill="#009fff"/>
<rect x="455.5" y="587.36" width="34.3" height="13.17" fill="#00bfff"/>
<rect x="489.3" y="587.36" width="34.3" height="13.17" fill="#00dfff"/>
<rect x="523.1" y="587.36" width="68.1" height="13.17" fill="#80ff80"/>
<rect x="590.7" y="587.36" width="34.3" height="13.17" fill="#60ff9f"/>
<rect x="624.5" y="587.36" width="34.3" height="13.17" fill="#20ffdf"/>
<rect x="658.3" y="587.36" width="34.3" height="13.17" fill="#60ff9f"/>
<rect x="692.1" y="587.36" width="34.3" height="13.17" fill="#40ffbf"/>
<rect x="725.9" y="587.36" width="34.3" height="13.17" fill="#60ff9f"/>
<rect x="759.7" y="587.36" width="34.3" height="13.17" fill="#40ffbf"/>
<rect x="793.5" y="587.36" width="34.3" height="13.17" fill="#0080ff"/>
<rect x="827.3" y="587.36" width="34.3" height="13.17" fill="#40ffbf"/>
<rect x="861.1" y="587.36" width="68.1" height="13.17" fill="#20ffdf"/>
<rect x="928.7" y="587.36" width="34.3" height="13.17" fill="#00ffff"/>
<rect x="962.5" y="587.36" width="68.1" height="13.17" fill="#40ffbf"/>
<rect x="1030.1" y="587.36" width="34.3" height="13.17" fill="#0060ff"/>
<rect x="1063.9" y="587.36" width="24.1" height="13.17" fill="#00ffff"/>
<rect x="156.0" y="600.02" width="29.6" height="13.17" fill="#00dfff"/>
<rect x="185.1" y="600.02" width="34.3" height="13.17" fill="#60ff9f"/>
<rect x="218.9" y="600.02" width="34.3" height="13.17" fill="#0080ff"/>
<rect x="252.7" y="600.02" width="34.3" height="13.17" fill="#00dfff"/>
<rect x="286.5" y="600.02" width="34.3" height="13.17" fill="#00ffff"/>
<rect x="320.3" y="600.02" width="34.3" height="13.17" fill="#009fff"/>
<rect x="354.1" y="600.02" width="34.3" height="13.17" fill="#0060ff"/>
<rect x="387.9" y="600.02" width="34.3" height="13.17" fill="#00ffff"/>
<rect x="421.7" y="600.02" width="34.3" height="13.17" fill="#009fff"/>
<rect x="455.5" y="600.02" width="68.1" height="13.17" fill="#00bfff"/>
<rect x="523.1" y="600.02" width="68.1" height="13.17" fill="#20ffdf"/>
<rect x="590.7" y="600.02" width="34.3" height="13.17" fill="#00bfff"/>
<rect x="624.5" y="600.02" width="34.3" height="13.17" fill="#20ffdf"/>
<rect x="658.3" y="600.02" width="34.3" height="13.17" fill="#40ffbf"/>
<rect x="692.1" y="600.02" width="34.3" height="13.17" fill="#00ffff"/>
<rect x="725.9" y="600.02" width="34.3" height="13.17" fill="#00bfff"/>
<rect x="759.7" y="600.02" width="34.3" height="13.17" fill="#00dfff"/>
<rect x="793.5" y="600.02" width="34.3" height="13.17" fill="#009fff"/>
<rect x="827.3" y="600.02" width="34.3" height="13.17" fill="#00bfff"/>
<rect x="861.1" y="600.02" width="34.3" height="13.17" fill="#0020ff"/>
<rect x="894.9" y="600.02" width="34.3" height="13.17" fill="#20ffdf"/>
<rect x="928.7" y="600.02" width="34.3" height="13.17" fill="#009fff"/>
<rect x="962.5" y="600.02" width="34.3" height="13.17" fill="#00ffff"/>
<rect x="996.3" y="600.02" width="34.3" height="13.17" fill="#0000c6"/>
<rect x="1030.1" y="600.02" width="34.3" height="13.17" fill="#009fff"/>
<rect x="1063.9" y="600.02" width="24.1" height="13.17" fill="#00bfff"/>
<rect x="156.0" y="612.69" width="29.6" height="13.17" fill="#0060ff"/>
<rect x="185.1" y="612.69" width="34.3" height="13.17" fill="#00bfff"/>
<rect x="218.9" y="612.69" width="34.3" height="13.17" fill="#20ffdf"/>
<rect x="252.7" y="612.69" width="34.3" height="13.17" fill="#00bfff"/>
<rect x="286.5" y="612.69" width="34.3" height="13.17" fill="#009fff"/>
<rect x="320.3" y="612.69" width="34.3" height="13.17" fill="#00bfff"/>
<rect x="354.1" y="612.69" width="68.1" height="13.17" fill="#20ffdf"/>
<rect x="421.7" y="612.69" width="34.3" height="13.17" fill="#009fff"/>
<rect x="455.5" y="612.69" width="34.3" height="13.17" fill="#00bfff"/>
<rect x="489.3" y="612.69" width="34.3" height="13.17" fill="#00ffff"/>
<rect x="523.1" y="612.69" width="34.3" height="13.17" fill="#009fff"/>
<rect x="556.9" y="612.69" width="34.3" height="13.17" fill="#00dfff"/>
<rect x="590.7" y="612.69" width="34.3" height="13.17" fill="#00bfff"/>
<rect x="624.5" y="612.69" width="34.3" height="13.17" fill="#009fff"/>
<rect x="658.3" y="612.69" width="34.3" height="13.17" fill="#20ffdf"/>
<rect x="692.1" y="612.69" width="68.1" height="13.17" fill="#00bfff"/>
<rect x="759.7" y="612.69" width="34.3" height="13.17" fill="#009fff"/>
<rect x="793.5" y="612.69" width="68.1" height="13.17" fill="#00dfff"/>
<rect x="861.1" y="612.69" width="34.3" height="13.17" fill="#00bfff"/>
<rect x="894.9" y="612.69" width="34.3" height="13.17" fill="#00ffff"/>
<rect x="928.7" y="612.69" width="34.3" height="13.17" fill="#009fff"/>
<rect x="962.5" y="612.69" width="34.3" height="13.17" fill="#00dfff"/>
<rect x="996.3" y="612.69" width="68.1" height="13.17" fill="#009fff"/>
<rect x="1063.9" y="612.69" width="24.1" height="13.17" fill="#0080ff"/>
<rect x="156.0" y="625.36" width="63.4" height="13.17" fill="#009fff"/>
<rect x="218.9" y="625.36" width="34.3" height="13.17" fill="#40ffbf"/>
<rect x="252.7" y="625.36" width="34.3" height="13.17" fill="#00ffff"/>
<rect x="286.5" y="625.36" width="34.3" height="13.17" fill="#00bfff"/>
<rect x="320.3" y="625.36" width="34.3" height="13.17" fill="#20ffdf"/>
<rect x="354.1" y="625.36" width="34.3" height="13.17" fill="#60ff9f"/>
<rect x="387.9" y="625.36" width="34.3" height="13.17" fill="#00dfff"/>
<rect x="421.7" y="625.36" width="34.3" height="13.17" fill="#009fff"/>
<rect x="455.5" y="625.36" width="34.3" height="13.17" fill="#20ffdf"/>
<rect x="489.3" y="625.36" width="34.3" height="13.17" fill="#60ff9f"/>
<rect x="523.1" y="625.36" width="34.3" height="13.17" fill="#0040ff"/>
<rect x="556.9" y="625.36" width="34.3" height="13.17" fill="#0060ff"/>
<rect x="590.7" y="625.36" width="34.3" height="13.17" fill="#00dfff"/>
<rect x="624.5" y="625.36" width="34.3" height="13.17" fill="#00bfff"/>
<rect x="658.3" y="625.36" width="34.3" height="13.17" fill="#20ffdf"/>
<rect x="692.1" y="625.36" width="34.3" height="13.17" fill="#00dfff"/>
<rect x="725.9" y="625.36" width="68.1" height="13.17" fill="#20ffdf"/>
<rect x="793.5" y="625.36" width="34.3" height="13.17" fill="#00ffff"/>
<rect x="827.3" y="625.36" width="34.3" height="13.17" fill="#80ff80"/>
<rect x="861.1" y="625.36" width="68.1" height="13.17" fill="#20ffdf"/>
<rect x="928.7" y="625.36" width="34.3" height="13.17" fill="#00ffff"/>
<rect x="962.5" y="625.36" width="34.3" height="13.17" fill="#009fff"/>
<rect x="996.3" y="625.36" width="34.3" height="13.17" fill="#0080ff"/>
<rect x="1030.1" y="625.36" width="34.3" height="13.17" fill="#0060ff"/>
<rect x="1063.9" y="625.36" width="24.1" height="13.17" fill="#00bfff"/>
<rect x="156.0" y="638.03" width="29.6" height="13.17" fill="#009fff"/>
<rect x="185.1" y="638.03" width="34.3" height="13.17" fill="#0060ff"/>
<rect x="218.9" y="638.03" width="34.3" height="13.17" fill="#60ff9f"/>
<rect x="252.7" y="638.03" width="34.3" height="13.17" fill="#00dfff"/>
<rect x="286.5" y="638.03" width="34.3" height="13.17" fill="#009fff"/>
<rect x="320.3" y="638.03" width="34.3" height="13.17" fill="#00ffff"/>
<rect x="354.1" y="638.03" width="34.3" height="13.17" fill="#40ffbf"/>
<rect x="387.9" y="638.03" width="34.3" height="13.17" fill="#00dfff"/>
<rect x="421.7" y="638.03" width="34.3" height="13.17" fill="#009fff"/>
<rect x="455.5" y="638.03" width="68.1" height="13.17" fill="#20ffdf"/>
<rect x="523.1" y="638.03" width="34.3" height="13.17" fill="#009fff"/>
<rect x="556.9" y="638.03" width="34.3" height="13.17" fill="#20ffdf"/>
<rect x="590.7" y="638.03" width="34.3" height="13.17" fill="#60ff9f"/>
<rect x="624.5" y="638.03" width="34.3" height="13.17" fill="#40ffbf"/>
<rect x="658.3" y="638.03" width="101.9" height="13.17" fill="#00ffff"/>
<rect x="759.7" y="638.03" width="34.3" height="13.17" fill="#40ffbf"/>
<rect x="793.5" y="638.03" width="68.1" height="13.17" fill="#60ff9f"/>
<rect x="861.1" y="638.03" width="68.1" height="13.17" fill="#80ff80"/>
<rect x="928.7" y="638.03" width="34.3" height="13.17" fill="#00ffff"/>
<rect x="962.5" y="638.03" width="34.3" height="13.17" fill="#00dfff"/>
<rect x="996.3" y="638.03" width="34.3" height="13.17" fill="#40ffbf"/>
<rect x="1030.1" y="638.03" width="34.3" height="13.17" fill="#60ff9f"/>
<rect x="1063.9" y="638.03" width="24.1" height="13.17" fill="#40ffbf"/>
<rect x="156.0" y="650.69" width="29.6" height="13.17" fill="#0020ff"/>
<rect x="185.1" y="650.69" width="34.3" height="13.17" fill="#00bfff"/>
<rect x="218.9" y="650.69" width="34.3" height="13.17" fill="#40ffbf"/>
<rect x="252.7" y="650.69" width="34.3" height="13.17" fill="#00bfff"/>
<rect x="286.5" y="650.69" width="34.3" height="13.17" fill="#0080ff"/>
<rect x="320.3" y="650.69" width="34.3" height="13.17" fill="#40ffbf"/>
<rect x="354.1" y="650.69" width="34.3" height="13.17" fill="#20ffdf"/>
<rect x="387.9" y="650.69" width="68.1" height="13.17" fill="#00dfff"/>
<rect x="455.5" y="650.69" width="34.3" height="13.17" fill="#00ffff"/>
<rect x="489.3" y="650.69" width="34.3" height="13.17" fill="#0000ff"/>
<rect x="523.1" y="650.69" width="34.3" height="13.17" fill="#0000bc"/>
<rect x="556.9" y="650.69" width="34.3" height="13.17" fill="#20ffdf"/>
<rect x="590.7" y="650.69" width="34.3" height="13.17" fill="#00ffff"/>
<rect x="624.5" y="650.69" width="68.1" height="13.17" fill="#00bfff"/>
<rect x="692.1" y="650.69" width="34.3" height="13.17" fill="#20ffdf"/>
<rect x="725.9" y="650.69" width="34.3" height="13.17" fill="#0040ff"/>
<rect x="759.7" y="650.69" width="34.3" height="13.17" fill="#0080ff"/>
<rect x="793.5" y="650.69" width="34.3" height="13.17" fill="#20ffdf"/>
<rect x="827.3" y="650.69" width="34.3" height="13.17" fill="#00ffff"/>
<rect x="861.1" y="650.69" width="34.3" height="13.17" fill="#40ffbf"/>
<rect x="894.9" y="650.69" width="34.3" height="13.17" fill="#20ffdf"/>
<rect x="928.7" y="650.69" width="34.3" height="13.17" fill="#00dfff"/>
<rect x="962.5" y="650.69" width="34.3" height="13.17" fill="#00bfff"/>
<rect x="996.3" y="650.69" width="34.3" height="13.17" fill="#20ffdf"/>
<rect x="1030.1" y="650.69" width="34.3" height="13.17" fill="#60ff9f"/>
<rect x="1063.9" y="650.69" width="24.1" height="13.17" fill="#00dfff"/>
<rect x="156.0" y="663.36" width="29.6" height="13.17" fill="#00dfff"/>
<rect x="185.1" y="663.36" width="34.3" height="13.17" fill="#00bfff"/>
<rect x="218.9" y="663.36" width="34.3" height="13.17" fill="#00ffff"/>
<rect x="252.7" y="663.36" width="34.3" height="13.17" fill="#00bfff"/>
<rect x="286.5" y="663.36" width="34.3" height="13.17" fill="#20ffdf"/>
<rect x="320.3" y="663.36" width="68.1" height="13.17" fill="#40ffbf"/>
<rect x="387.9" y="663.36" width="34.3" height="13.17" fill="#00dfff"/>
<rect x="421.7" y="663.36" width="34.3" height="13.17" fill="#60ff9f"/>
<rect x="455.5" y="663.36" width="68.1" height="13.17" fill="#009fff"/>
<rect x="523.1" y="663.36" width="34.3" height="13.17" fill="#00bfff"/>
<rect x="556.9" y="663.36" width="34.3" height="13.17" fill="#00ffff"/>
<rect x="590.7" y="663.36" width="68.1" height="13.17" fill="#00dfff"/>
<rect x="658.3" y="663.36" width="34.3" height="13.17" fill="#0060ff"/>
<rect x="692.1" y="663.36" width="34.3" height="13.17" fill="#009fff"/>
<rect x="725.9" y="663.36" width="34.3" height="13.17" fill="#0080ff"/>
<rect x="759.7" y="663.36" width="34.3" height="13.17" fill="#60ff9f"/>
<rect x="793.5" y="663.36" width="34.3" height="13.17" fill="#20ffdf"/>
<rect x="827.3" y="663.36" width="34.3" height="13.17" fill="#00ffff"/>
<rect x="861.1" y="663.36" width="34.3" height="13.17" fill="#20ffdf"/>
<rect x="894.9" y="663.36" width="68.1" height="13.17" fill="#009fff"/>
<rect x="962.5" y="663.36" width="34.3" height="13.17" fill="#40ffbf"/>
<rect x="996.3" y="663.36" width="34.3" height="13.17" fill="#00bfff"/>
<rect x="1030.1" y="663.36" width="34.3" height="13.17" fill="#00ffff"/>
<rect x="1063.9" y="663.36" width="24.1" height="13.17" fill="#00bfff"/>
<rect x="156.0" y="676.03" width="29.6" height="13.17" fill="#009fff"/>
<rect x="185.1" y="676.03" width="34.3" height="13.17" fill="#00dfff"/>
<rect x="218.9" y="676.03" width="34.3" height="13.17" fill="#009fff"/>
<rect x="252.7" y="676.03" width="34.3" height="13.17" fill="#00ffff"/>
<rect x="286.5" y="676.03" width="34.3" height="13.17" fill="#20ffdf"/>
<rect x="320.3" y="676.03" width="34.3" height="13.17" fill="#00ffff"/>
<rect x="354.1" y="676.03" width="34.3" height="13.17" fill="#20ffdf"/>
<rect x="387.9" y="676.03" width="34.3" height="13.17" fill="#0080ff"/>
<rect x="421.7" y="676.03" width="34.3" height="13.17" fill="#40ffbf"/>
<rect x="455.5" y="676.03" width="34.3" height="13.17" fill="#0060ff"/>
<rect x="489.3" y="676.03" width="34.3" height="13.17" fill="#00dfff"/>
<rect x="523.1" y="676.03" width="68.1" height="13.17" fill="#00bfff"/>
<rect x="590.7" y="676.03" width="68.1" height="13.17" fill="#0080ff"/>
<rect x="658.3" y="676.03" width="34.3" height="13.17" fill="#00ffff"/>
<rect x="692.1" y="676.03" width="34.3" height="13.17" fill="#0060ff"/>
<rect x="725.9" y="676.03" width="34.3" height="13.17" fill="#00bfff"/>
<rect x="759.7" y="676.03" width="34.3" height="13.17" fill="#20ffdf"/>
<rect x="793.5" y="676.03" width="34.3" height="13.17" fill="#60ff9f"/>
<rect x="827.3" y="676.03" width="34.3" height="13.17" fill="#20ffdf"/>
<rect x="861.1" y="676.03" width="34.3" height="13.17" fill="#40ffbf"/>
<rect x="894.9" y="676.03" width="34.3" height="13.17" fill="#20ffdf"/>
<rect x="928.7" y="676.03" width="34.3" height="13.17" fill="#0020ff"/>
<rect x="962.5" y="676.03" width="34.3" height="13.17" fill="#20ffdf"/>
<rect x="996.3" y="676.03" width="34.3" height="13.17" fill="#00dfff"/>
<rect x="1030.1" y="676.03" width="34.3" height="13.17" fill="#00ffff"/>
<rect x="1063.9" y="676.03" width="24.1" height="13.17" fill="#20ffdf"/>
<rect x="156.0" y="688.69" width="29.6" height="13.17" fill="#0060ff"/>
<rect x="185.1" y="688.69" width="34.3" height="13.17" fill="#0020ff"/>
<rect x="218.9" y="688.69" width="34.3" height="13.17" fill="#00bfff"/>
<rect x="252.7" y="688.69" width="34.3" height="13.17" fill="#40ffbf"/>
<rect x="286.5" y="688.69" width="34.3" height="13.17" fill="#00bfff"/>
<rect x="320.3" y="688.69" width="34.3" height="13.17" fill="#00ffff"/>
<rect x="354.1" y="688.69" width="34.3" height="13.17" fill="#20ffdf"/>
<rect x="387.9" y="688.69" width="68.1" height="13.17" fill="#009fff"/>
<rect x="455.5" y="688.69" width="34.3" height="13.17" fill="#00dfff"/>
<rect x="489.3" y="688.69" width="34.3" height="13.17" fill="#00ffff"/>
<rect x="523.1" y="688.69" width="34.3" height="13.17" fill="#0040ff"/>
<rect x="556.9" y="688.69" width="68.1" height="13.17" fill="#00ffff"/>
<rect x="624.5" y="688.69" width="34.3" height="13.17" fill="#0080ff"/>
<rect x="658.3" y="688.69" width="34.3" height="13.17" fill="#00dfff"/>
<rect x="692.1" y="688.69" width="34.3" height="13.17" fill="#20ffdf"/>
<rect x="725.9" y="688.69" width="34.3" height="13.17" fill="#00ffff"/>
<rect x="759.7" y="688.69" width="34.3" height="13.17" fill="#009fff"/>
<rect x="793.5" y="688.69" width="68.1" height="13.17" fill="#80ff80"/>
<rect x="861.1" y="688.69" width="34.3" height="13.17" fill="#20ffdf"/>
<rect x="894.9" y="688.69" width="34.3" height="13.17" fill="#40ffbf"/>
<rect x="928.7" y="688.69" width="34.3" height="13.17" fill="#00dfff"/>
<rect x="962.5" y="688.69" width="34.3" height="13.17" fill="#0000c2"/>
<rect x="996.3" y="688.69" width="34.3" height="13.17" fill="#40ffbf"/>
<rect x="1030.1" y="688.69" width="57.9" height="13.17" fill="#00dfff"/>
<rect x="156.0" y="701.36" width="29.6" height="13.17" fill="#00bfff"/>
<rect x="185.1" y="701.36" width="34.3" height="13.17" fill="#009fff"/>
<rect x="218.9" y="701.36" width="34.3" height="13.17" fill="#20ffdf"/>
<rect x="252.7" y="701.36" width="34.3" height="13.17" fill="#60ff9f"/>
<rect x="286.5" y="701.36" width="34.3" height="13.17" fill="#009fff"/>
<rect x="320.3" y="701.36" width="68.1" height="13.17" fill="#40ffbf"/>
<rect x="387.9" y="701.36" width="34.3" height="13.17" fill="#20ffdf"/>
<rect x="421.7" y="701.36" width="34.3" height="13.17" fill="#009fff"/>
<rect x="455.5" y="701.36" width="34.3" height="13.17" fill="#40ffbf"/>
<rect x="489.3" y="701.36" width="34.3" height="13.17" fill="#0080ff"/>
<rect x="523.1" y="701.36" width="68.1" height="13.17" fill="#40ffbf"/>
<rect x="590.7" y="701.36" width="34.3" height="13.17" fill="#00ffff"/>
<rect x="624.5" y="701.36" width="34.3" height="13.17" fill="#0080ff"/>
<rect x="658.3" y="701.36" width="68.1" height="13.17" fill="#00ffff"/>
<rect x="725.9" y="701.36" width="34.3" height="13.17" fill="#009fff"/>
<rect x="759.7" y="701.36" width="34.3" height="13.17" fill="#20ffdf"/>
<rect x="793.5" y="701.36" width="34.3" height="13.17" fill="#80ff80"/>
<rect x="827.3" y="701.36" width="34.3" height="13.17" fill="#60ff9f"/>
<rect x="861.1" y="701.36" width="34.3" height="13.17" fill="#00bfff"/>
<rect x="894.9" y="701.36" width="68.1" height="13.17" fill="#40ffbf"/>
<rect x="962.5" y="701.36" width="34.3" height="13.17" fill="#00ffff"/>
<rect x="996.3" y="701.36" width="34.3" height="13.17" fill="#40ffbf"/>
<rect x="1030.1" y="701.36" width="34.3" height="13.17" fill="#20ffdf"/>
<rect x="1063.9" y="701.36" width="24.1" height="13.17" fill="#00ffff"/>
<rect x="156.0" y="714.03" width="29.6" height="13.17" fill="#00bfff"/>
<rect x="185.1" y="714.03" width="34.3" height="13.17" fill="#009fff"/>
<rect x="218.9" y="714.03" width="34.3" height="13.17" fill="#00ffff"/>
<rect x="252.7" y="714.03" width="68.1" height="13.17" fill="#40ffbf"/>
<rect x="320.3" y="714.03" width="68.1" height="13.17" fill="#00ffff"/>
<rect x="387.9" y="714.03" width="34.3" height="13.17" fill="#20ffdf"/>
<rect x="421.7" y="714.03" width="34.3" height="13.17" fill="#00ffff"/>
<rect x="455.5" y="714.03" width="34.3" height="13.17" fill="#60ff9f"/>
<rect x="489.3" y="714.03" width="34.3" height="13.17" fill="#0080ff"/>
<rect x="523.1" y="714.03" width="34.3" height="13.17" fill="#40ffbf"/>
<rect x="556.9" y="714.03" width="34.3" height="13.17" fill="#00ffff"/>
<rect x="590.7" y="714.03" width="34.3" height="13.17" fill="#0000c6"/>
<rect x="624.5" y="714.03" width="34.3" height="13.17" fill="#20ffdf"/>
<rect x="658.3" y="714.03" width="34.3" height="13.17" fill="#40ffbf"/>
<rect x="692.1" y="714.03" width="34.3" height="13.17" fill="#009fff"/>
<rect x="725.9" y="714.03" width="68.1" height="13.17" fill="#20ffdf"/>
<rect x="793.5" y="714.03" width="34.3" height="13.17" fill="#60ff9f"/>
<rect x="827.3" y="714.03" width="34.3" height="13.17" fill="#00ffff"/>
<rect x="861.1" y="714.03" width="34.3" height="13.17" fill="#00dfff"/>
<rect x="894.9" y="714.03" width="34.3" height="13.17" fill="#0040ff"/>
<rect x="928.7" y="714.03" width="68.1" height="13.17" fill="#40ffbf"/>
<rect x="996.3" y="714.03" width="34.3" height="13.17" fill="#00dfff"/>
<rect x="1030.1" y="714.03" width="57.9" height="13.17" fill="#40ffbf"/>
<rect x="156.0" y="726.70" width="29.6" height="13.17" fill="#0000a6"/>
<rect x="185.1" y="726.70" width="34.3" height="13.17" fill="#20ffdf"/>
<rect x="218.9" y="726.70" width="34.3" height="13.17" fill="#00ffff"/>
<rect x="252.7" y="726.70" width="34.3" height="13.17" fill="#20ffdf"/>
<rect x="286.5" y="726.70" width="34.3" height="13.17" fill="#40ffbf"/>
<rect x="320.3" y="726.70" width="34.3" height="13.17" fill="#00bfff"/>
<rect x="354.1" y="726.70" width="34.3" height="13.17" fill="#60ff9f"/>
<rect x="387.9" y="726.70" width="34.3" height="13.17" fill="#40ffbf"/>
<rect x="421.7" y="726.70" width="34.3" height="13.17" fill="#60ff9f"/>
<rect x="455.5" y="726.70" width="34.3" height="13.17" fill="#40ffbf"/>
<rect x="489.3" y="726.70" width="34.3" height="13.17" fill="#20ffdf"/>
<rect x="523.1" y="726.70" width="34.3" height="13.17" fill="#40ffbf"/>
<rect x="556.9" y="726.70" width="34.3" height="13.17" fill="#00dfff"/>
<rect x="590.7" y="726.70" width="34.3" height="13.17" fill="#40ffbf"/>
<rect x="624.5" y="726.70" width="34.3" height="13.17" fill="#20ffdf"/>
<rect x="658.3" y="726.70" width="34.3" height="13.17" fill="#00dfff"/>
<rect x="692.1" y="726.70" width="34.3" height="13.17" fill="#60ff9f"/>
<rect x="725.9" y="726.70" width="34.3" height="13.17" fill="#80ff80"/>
<rect x="759.7" y="726.70" width="34.3" height="13.17" fill="#40ffbf"/>
<rect x="793.5" y="726.70" width="34.3" height="13.17" fill="#9fff60"/>
<rect x="827.3" y="726.70" width="34.3" height="13.17" fill="#40ffbf"/>
<rect x="861.1" y="726.70" width="34.3" height="13.17" fill="#80ff80"/>
<rect x="894.9" y="726.70" width="34.3" height="13.17" fill="#60ff9f"/>
<rect x="928.7" y="726.70" width="68.1" height="13.17" fill="#00dfff"/>
<rect x="996.3" y="726.70" width="68.1" height="13.17" fill="#20ffdf"/>
<rect x="1063.9" y="726.70" width="24.1" height="13.17" fill="#40ffbf"/>
<rect x="156.0" y="739.36" width="63.4" height="13.17" fill="#00dfff"/>
<rect x="218.9" y="739.36" width="34.3" height="13.17" fill="#60ff9f"/>
<rect x="252.7" y="739.36" width="68.1" height="13.17" fill="#00ffff"/>
<rect x="320.3" y="739.36" width="68.1" height="13.17" fill="#80ff80"/>
<rect x="387.9" y="739.36" width="34.3" height="13.17" fill="#00dfff"/>
<rect x="421.7" y="739.36" width="34.3" height="13.17" fill="#9fff60"/>
<rect x="455.5" y="739.36" width="34.3" height="13.17" fill="#80ff80"/>
<rect x="489.3" y="739.36" width="34.3" height="13.17" fill="#60ff9f"/>
<rect x="523.1" y="739.36" width="34.3" height="13.17" fill="#20ffdf"/>
<rect x="556.9" y="739.36" width="34.3" height="13.17" fill="#009fff"/>
<rect x="590.7" y="739.36" width="68.1" height="13.17" fill="#20ffdf"/>
<rect x="658.3" y="739.36" width="34.3" height="13.17" fill="#00bfff"/>
<rect x="692.1" y="739.36" width="34.3" height="13.17" fill="#40ffbf"/>
<rect x="725.9" y="739.36" width="34.3" height="13.17" fill="#9fff60"/>
<rect x="759.7" y="739.36" width="34.3" height="13.17" fill="#00bfff"/>
<rect x="793.5" y="739.36" width="34.3" height="13.17" fill="#9fff60"/>
<rect x="827.3" y="739.36" width="34.3" height="13.17" fill="#80ff80"/>
<rect x="861.1" y="739.36" width="34.3" height="13.17" fill="#40ffbf"/>
<rect x="894.9" y="739.36" width="34.3" height="13.17" fill="#60ff9f"/>
<rect x="928.7" y="739.36" width="34.3" height="13.17" fill="#009fff"/>
<rect x="962.5" y="739.36" width="34.3" height="13.17" fill="#40ffbf"/>
<rect x="996.3" y="739.36" width="34.3" height="13.17" fill="#80ff80"/>
<rect x="1030.1" y="739.36" width="34.3" height="13.17" fill="#40ffbf"/>
<rect x="1063.9" y="739.36" width="24.1" height="13.17" fill="#20ffdf"/>
<rect x="156.0" y="752.03" width="63.4" height="13.17" fill="#40ffbf"/>
<rect x="218.9" y="752.03" width="34.3" height="13.17" fill="#00dfff"/>
<rect x="252.7" y="752.03" width="34.3" height="13.17" fill="#0020ff"/>
<rect x="286.5" y="752.03" width="34.3" height="13.17" fill="#60ff9f"/>
<rect x="320.3" y="752.03" width="34.3" height="13.17" fill="#00ffff"/>
<rect x="354.1" y="752.03" width="68.1" height="13.17" fill="#40ffbf"/>
<rect x="421.7" y="752.03" width="34.3" height="13.17" fill="#00ffff"/>
<rect x="455.5" y="752.03" width="34.3" height="13.17" fill="#60ff9f"/>
<rect x="489.3" y="752.03" width="34.3" height="13.17" fill="#20ffdf"/>
<rect x="523.1" y="752.03" width="68.1" height="13.17" fill="#00dfff"/>
<rect x="590.7" y="752.03" width="34.3" height="13.17" fill="#20ffdf"/>
<rect x="624.5" y="752.03" width="34.3" height="13.17" fill="#009fff"/>
<rect x="658.3" y="752.03" width="34.3" height="13.17" fill="#20ffdf"/>
<rect x="692.1" y="752.03" width="34.3" height="13.17" fill="#40ffbf"/>
<rect x="725.9" y="752.03" width="34.3" height="13.17" fill="#9fff60"/>
<rect x="759.7" y="752.03" width="34.3" height="13.17" fill="#20ffdf"/>
<rect x="793.5" y="752.03" width="34.3" height="13.17" fill="#bfff40"/>
<rect x="827.3" y="752.03" width="34.3" height="13.17" fill="#80ff80"/>
<rect x="861.1" y="752.03" width="34.3" height="13.17" fill="#00dfff"/>
<rect x="894.9" y="752.03" width="34.3" height="13.17" fill="#40ffbf"/>
<rect x="928.7" y="752.03" width="34.3" height="13.17" fill="#60ff9f"/>
<rect x="962.5" y="752.03" width="34.3" height="13.17" fill="#9fff60"/>
<rect x="996.3" y="752.03" width="34.3" height="13.17" fill="#80ff80"/>
<rect x="1030.1" y="752.03" width="34.3" height="13.17" fill="#00ffff"/>
<rect x="1063.9" y="752.03" width="24.1" height="13.17" fill="#20ffdf"/>
<rect x="156.0" y="764.70" width="29.6" height="13.17" fill="#40ffbf"/>
<rect x="185.1" y="764.70" width="34.3" height="13.17" fill="#00ffff"/>
<rect x="218.9" y="764.70" width="68.1" height="13.17" fill="#60ff9f"/>
<rect x="286.5" y="764.70" width="34.3" height="13.17" fill="#80ff80"/>
<rect x="320.3" y="764.70" width="34.3" height="13.17" fill="#9fff60"/>
<rect x="354.1" y="764.70" width="34.3" height="13.17" fill="#bfff40"/>
<rect x="387.9" y="764.70" width="68.1" height="13.17" fill="#9fff60"/>
<rect x="455.5" y="764.70" width="34.3" height="13.17" fill="#afff50"/>
<rect x="489.3" y="764.70" width="34.3" height="13.17" fill="#80ff80"/>
<rect x="523.1" y="764.70" width="34.3" height="13.17" fill="#40ffbf"/>
<rect x="556.9" y="764.70" width="34.3" height="13.17" fill="#00dfff"/>
<rect x="590.7" y="764.70" width="68.1" height="13.17" fill="#60ff9f"/>
<rect x="658.3" y="764.70" width="34.3" height="13.17" fill="#80ff80"/>
<rect x="692.1" y="764.70" width="34.3" height="13.17" fill="#60ff9f"/>
<rect x="725.9" y="764.70" width="34.3" height="13.17" fill="#40ffbf"/>
<rect x="759.7" y="764.70" width="68.1" height="13.17" fill="#9fff60"/>
<rect x="827.3" y="764.70" width="34.3" height="13.17" fill="#40ffbf"/>
<rect x="861.1" y="764.70" width="34.3" height="13.17" fill="#80ff80"/>
<rect x="894.9" y="764.70" width="34.3" height="13.17" fill="#bfff40"/>
<rect x="928.7" y="764.70" width="34.3" height="13.17" fill="#00ffff"/>
<rect x="962.5" y="764.70" width="68.1" height="13.17" fill="#9fff60"/>
<rect x="1030.1" y="764.70" width="34.3" height="13.17" fill="#80ff80"/>
<rect x="1063.9" y="764.70" width="24.1" height="13.17" fill="#40ffbf"/>
<rect x="156.0" y="777.37" width="29.6" height="13.17" fill="#00ffff"/>
<rect x="185.1" y="777.37" width="34.3" height="13.17" fill="#60ff9f"/>
<rect x="218.9" y="777.37" width="34.3" height="13.17" fill="#20ffdf"/>
<rect x="252.7" y="777.37" width="34.3" height="13.17" fill="#60ff9f"/>
<rect x="286.5" y="777.37" width="34.3" height="13.17" fill="#bfff40"/>
<rect x="320.3" y="777.37" width="34.3" height="13.17" fill="#9fff60"/>
<rect x="354.1" y="777.37" width="34.3" height="13.17" fill="#60ff9f"/>
<rect x="387.9" y="777.37" width="34.3" height="13.17" fill="#80ff80"/>
<rect x="421.7" y="777.37" width="34.3" height="13.17" fill="#9fff60"/>
<rect x="455.5" y="777.37" width="34.3" height="13.17" fill="#80ff80"/>
<rect x="489.3" y="777.37" width="34.3" height="13.17" fill="#bfff40"/>
<rect x="523.1" y="777.37" width="34.3" height="13.17" fill="#00ffff"/>
<rect x="556.9" y="777.37" width="34.3" height="13.17" fill="#40ffbf"/>
<rect x="590.7" y="777.37" width="34.3" height="13.17" fill="#60ff9f"/>
<rect x="624.5" y="777.37" width="34.3" height="13.17" fill="#80ff80"/>
<rect x="658.3" y="777.37" width="34.3" height="13.17" fill="#40ffbf"/>
<rect x="692.1" y="777.37" width="34.3" height="13.17" fill="#60ff9f"/>
<rect x="725.9" y="777.37" width="34.3" height="13.17" fill="#40ffbf"/>
<rect x="759.7" y="777.37" width="34.3" height="13.17" fill="#60ff9f"/>
<rect x="793.5" y="777.37" width="34.3" height="13.17" fill="#40ffbf"/>
<rect x="827.3" y="777.37" width="34.3" height="13.17" fill="#00ffff"/>
<rect x="861.1" y="777.37" width="34.3" height="13.17" fill="#9fff60"/>
<rect x="894.9" y="777.37" width="34.3" height="13.17" fill="#bfff40"/>
<rect x="928.7" y="777.37" width="34.3" height="13.17" fill="#00dfff"/>
<rect x="962.5" y="777.37" width="68.1" height="13.17" fill="#80ff80"/>
<rect x="1030.1" y="777.37" width="34.3" height="13.17" fill="#9fff60"/>
<rect x="1063.9" y="777.37" width="24.1" height="13.17" fill="#40ffbf"/>
<rect x="156.0" y="790.03" width="29.6" height="12.67" fill="#00009c"/>
<rect x="185.1" y="790.03" width="34.3" height="12.67" fill="#20ffdf"/>
<rect x="218.9" y="790.03" width="34.3" height="12.67" fill="#00dfff"/>
<rect x="252.7" y="790.03" width="34.3" height="12.67" fill="#00009f"/>
<rect x="286.5" y="790.03" width="34.3" height="12.67" fill="#0020ff"/>
<rect x="320.3" y="790.03" width="34.3" height="12.67" fill="#00dfff"/>
<rect x="354.1" y="790.03" width="34.3" height="12.67" fill="#40ffbf"/>
<rect x="387.9" y="790.03" width="34.3" height="12.67" fill="#009fff"/>
<rect x="421.7" y="790.03" width="34.3" height="12.67" fill="#000089"/>
<rect x="455.5" y="790.03" width="34.3" height="12.67" fill="#20ffdf"/>
<rect x="489.3" y="790.03" width="34.3" height="12.67" fill="#60ff9f"/>
<rect x="523.1" y="790.03" width="34.3" height="12.67" fill="#009fff"/>
<rect x="556.9" y="790.03" width="34.3" height="12.67" fill="#20ffdf"/>
<rect x="590.7" y="790.03" width="68.1" height="12.67" fill="#40ffbf"/>
<rect x="658.3" y="790.03" width="34.3" height="12.67" fill="#0040ff"/>
<rect x="692.1" y="790.03" width="34.3" height="12.67" fill="#00dfff"/>
<rect x="725.9" y="790.03" width="34.3" height="12.67" fill="#40ffbf"/>
<rect x="759.7" y="790.03" width="34.3" height="12.67" fill="#00bfff"/>
<rect x="793.5" y="790.03" width="34.3" height="12.67" fill="#000089"/>
<rect x="827.3" y="790.03" width="34.3" height="12.67" fill="#00bfff"/>
<rect x="861.1" y="790.03" width="34.3" height="12.67" fill="#20ffdf"/>
<rect x="894.9" y="790.03" width="34.3" height="12.67" fill="#0060ff"/>
<rect x="928.7" y="790.03" width="34.3" height="12.67" fill="#20ffdf"/>
<rect x="962.5" y="790.03" width="34.3" height="12.67" fill="#00dfff"/>
<rect x="996.3" y="790.03" width="34.3" height="12.67" fill="#0080ff"/>
<rect x="1030.1" y="790.03" width="34.3" height="12.67" fill="#20ffdf"/>
<rect x="1063.9" y="790.03" width="24.1" height="12.67" fill="#0080ff"/>
</g>
<text x="150" y="81" text-anchor="end">10</text>
<text x="150" y="446.6" text-anchor="end">5</text>
<text x="150" y="813.7" text-anchor="end">0</text>
<text x="157" y="834" text-anchor="middle">12</text>
<text x="607.5" y="834" text-anchor="middle">51</text>
<text x="1086" y="834" text-anchor="middle">92</text>
<text x="621.7" y="863.7" text-anchor="middle" textLength="106.5" lengthAdjust="spacing">Time, ms</text>
<text transform="translate(107.3,438) rotate(-90)" text-anchor="middle" textLength="178.5" lengthAdjust="spacing">Frequency, kHz</text>
</svg></body></html>
